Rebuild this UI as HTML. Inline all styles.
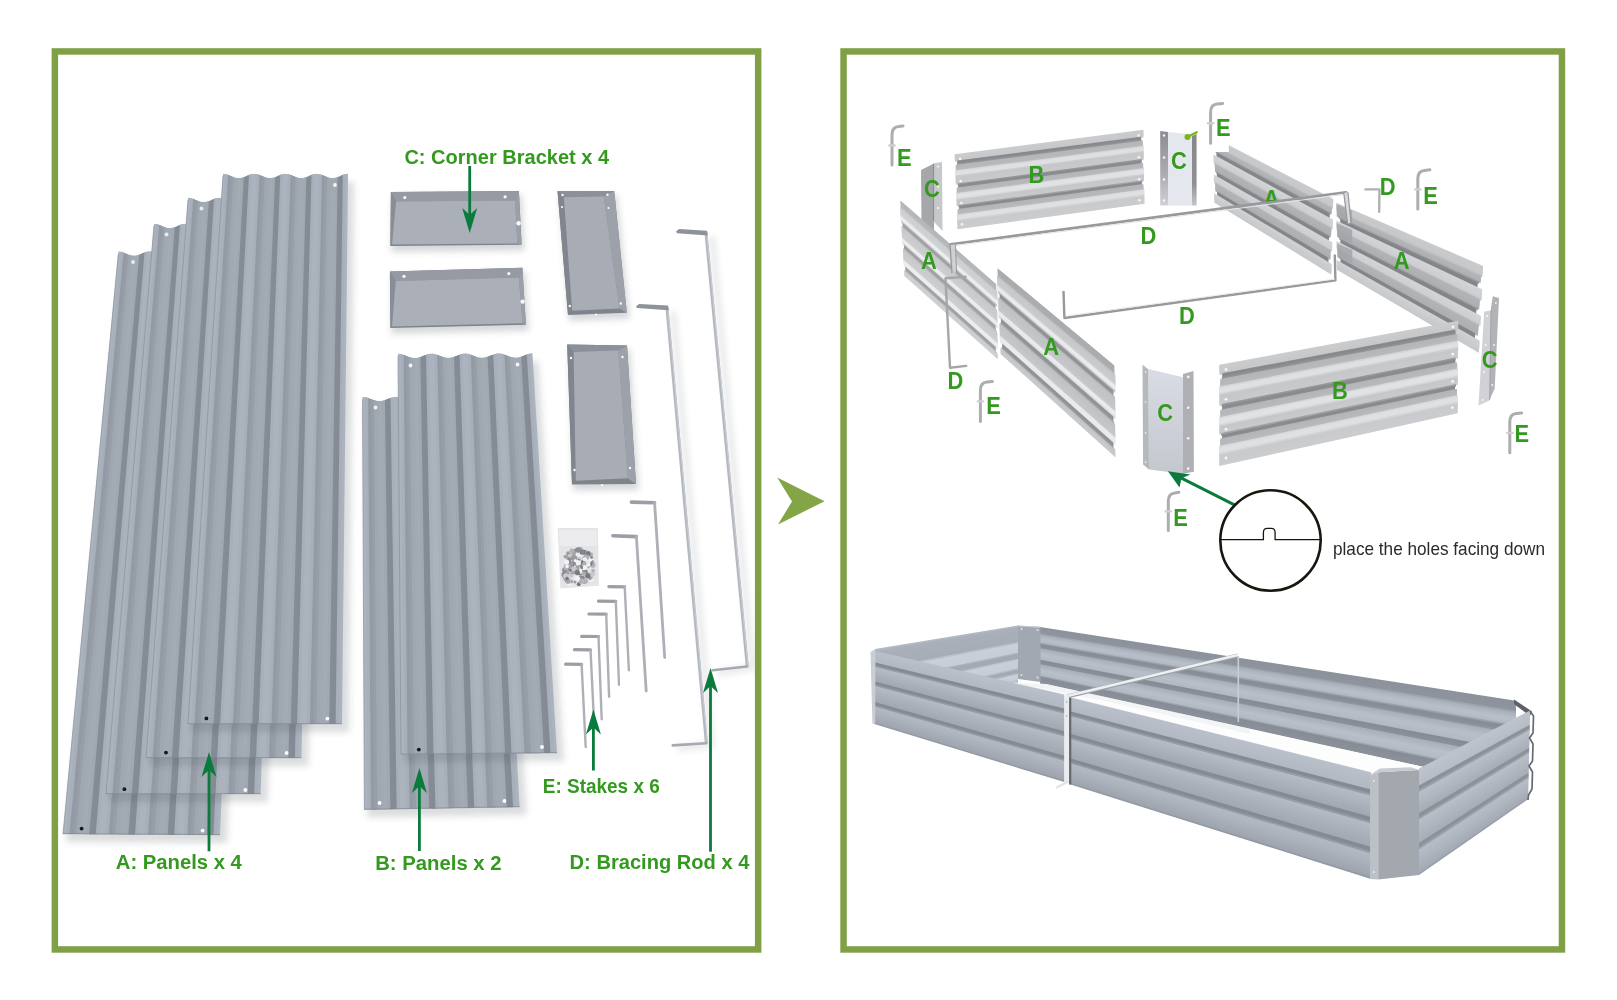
<!DOCTYPE html>
<html lang="en"><head><meta charset="utf-8"><title>Raised garden bed parts and assembly</title>
<style>html,body{margin:0;padding:0;background:#fff;}body{width:1617px;height:1000px;overflow:hidden;position:relative;font-family:"Liberation Sans",Arial,sans-serif;}svg{position:absolute;left:0;top:0;display:block;}</style></head><body>
<svg width="1617" height="1000" viewBox="0 0 1617 1000" font-family="Liberation Sans, Arial, sans-serif">
<defs><filter id="soft" x="-5%" y="-5%" width="110%" height="110%"><feGaussianBlur stdDeviation="0.6"/></filter><filter id="sh" x="-20%" y="-20%" width="140%" height="140%"><feGaussianBlur stdDeviation="6"/></filter><filter id="sh2" x="-30%" y="-30%" width="160%" height="160%"><feGaussianBlur stdDeviation="3"/></filter></defs>
<rect width="1617" height="1000" fill="#ffffff"/>
<g id="left">
<g filter="url(#soft)">
<g filter="url(#sh2)" opacity="0.2">
<polygon points="121.4,259.6 249.5,259.6 227.0,843.0 66.0,842.0" fill="#50565e"/>
</g>
<polygon points="118.4,251.3 122.8,252.2 68.6,834.0 63.0,834.0" fill="#abb3be"/>
<polygon points="121.0,251.6 125.4,253.2 71.8,834.1 66.3,834.0" fill="#a7afba"/>
<polygon points="123.6,252.4 128.0,254.4 75.1,834.1 69.5,834.0" fill="#939aa4"/>
<polygon points="126.2,253.6 130.6,255.4 78.4,834.1 72.8,834.1" fill="#979ea8"/>
<polygon points="128.8,254.8 133.3,255.9 81.6,834.1 76.1,834.1" fill="#9fa7b1"/>
<polygon points="131.4,255.6 135.9,255.7 84.9,834.1 79.4,834.1" fill="#a1a9b3"/>
<polygon points="134.0,255.9 138.5,255.0 88.2,834.2 82.6,834.1" fill="#a3abb5"/>
<polygon points="136.6,255.6 141.1,254.0 91.5,834.2 85.9,834.1" fill="#a0a8b2"/>
<polygon points="139.2,254.8 143.7,252.8 94.7,834.2 89.2,834.2" fill="#858c96"/>
<polygon points="141.9,253.6 146.3,251.8 98.0,834.2 92.4,834.2" fill="#848b95"/>
<polygon points="144.5,252.4 148.9,251.3 101.3,834.2 95.7,834.2" fill="#a7afba"/>
<polygon points="147.1,251.6 151.5,251.5 104.5,834.3 99.0,834.2" fill="#abb3be"/>
<polygon points="149.7,251.3 154.1,252.2 107.8,834.3 102.2,834.2" fill="#abb3be"/>
<polygon points="152.3,251.6 156.7,253.2 111.1,834.3 105.5,834.3" fill="#a7afba"/>
<polygon points="154.9,252.4 159.3,254.4 114.4,834.3 108.8,834.3" fill="#939aa4"/>
<polygon points="157.5,253.6 161.9,255.4 117.6,834.3 112.1,834.3" fill="#979ea8"/>
<polygon points="160.1,254.8 164.5,255.9 120.9,834.4 115.3,834.3" fill="#9fa7b1"/>
<polygon points="162.7,255.6 167.1,255.7 124.2,834.4 118.6,834.4" fill="#a1a9b3"/>
<polygon points="165.3,255.9 169.7,255.0 127.4,834.4 121.9,834.4" fill="#a3abb5"/>
<polygon points="167.9,255.6 172.3,254.0 130.7,834.4 125.1,834.4" fill="#a0a8b2"/>
<polygon points="170.5,254.8 175.0,252.8 134.0,834.5 128.4,834.4" fill="#858c96"/>
<polygon points="173.1,253.6 177.6,251.8 137.2,834.5 131.7,834.4" fill="#848b95"/>
<polygon points="175.7,252.4 180.2,251.3 140.5,834.5 135.0,834.5" fill="#a7afba"/>
<polygon points="178.3,251.6 182.8,251.5 143.8,834.5 138.2,834.5" fill="#abb3be"/>
<polygon points="180.9,251.3 185.4,252.2 147.1,834.5 141.5,834.5" fill="#abb3be"/>
<polygon points="183.6,251.6 188.0,253.2 150.3,834.6 144.8,834.5" fill="#a7afba"/>
<polygon points="186.2,252.4 190.6,254.4 153.6,834.6 148.0,834.5" fill="#939aa4"/>
<polygon points="188.8,253.6 193.2,255.4 156.9,834.6 151.3,834.6" fill="#979ea8"/>
<polygon points="191.4,254.8 195.8,255.9 160.1,834.6 154.6,834.6" fill="#9fa7b1"/>
<polygon points="194.0,255.6 198.4,255.7 163.4,834.6 157.9,834.6" fill="#a1a9b3"/>
<polygon points="196.6,255.9 201.0,255.0 166.7,834.7 161.1,834.6" fill="#a3abb5"/>
<polygon points="199.2,255.6 203.6,254.0 170.0,834.7 164.4,834.6" fill="#a0a8b2"/>
<polygon points="201.8,254.8 206.2,252.8 173.2,834.7 167.7,834.7" fill="#858c96"/>
<polygon points="204.4,253.6 208.8,251.8 176.5,834.7 170.9,834.7" fill="#848b95"/>
<polygon points="207.0,252.4 211.4,251.3 179.8,834.7 174.2,834.7" fill="#a7afba"/>
<polygon points="209.6,251.6 214.0,251.5 183.0,834.8 177.5,834.7" fill="#abb3be"/>
<polygon points="212.2,251.3 216.7,252.2 186.3,834.8 180.8,834.8" fill="#abb3be"/>
<polygon points="214.8,251.6 219.3,253.2 189.6,834.8 184.0,834.8" fill="#a7afba"/>
<polygon points="217.4,252.4 221.9,254.4 192.9,834.8 187.3,834.8" fill="#939aa4"/>
<polygon points="220.0,253.6 224.5,255.4 196.1,834.8 190.6,834.8" fill="#979ea8"/>
<polygon points="222.7,254.8 227.1,255.9 199.4,834.9 193.8,834.8" fill="#9fa7b1"/>
<polygon points="225.3,255.6 229.7,255.7 202.7,834.9 197.1,834.9" fill="#a1a9b3"/>
<polygon points="227.9,255.9 232.3,255.0 205.9,834.9 200.4,834.9" fill="#a3abb5"/>
<polygon points="230.5,255.6 234.9,254.0 209.2,834.9 203.6,834.9" fill="#a0a8b2"/>
<polygon points="233.1,254.8 237.5,252.8 212.5,835.0 206.9,834.9" fill="#858c96"/>
<polygon points="235.7,253.6 240.1,251.8 215.7,835.0 210.2,834.9" fill="#848b95"/>
<polygon points="238.3,252.4 242.7,251.3 219.0,835.0 213.5,835.0" fill="#a7afba"/>
<polygon points="240.9,251.6 243.5,251.3 220.0,835.0 216.7,835.0" fill="#abb3be"/>
<line x1="118.4" y1="253.6" x2="63.0" y2="834.0" stroke="#8a919b" stroke-width="1.00" opacity="0.7"/>
<line x1="63.0" y1="833.7" x2="220.0" y2="834.7" stroke="#7c838d" stroke-width="1.20" opacity="0.55"/>
<circle cx="81.6" cy="828.6" r="1.90" fill="#15171a"/>
<circle cx="202.6" cy="830.6" r="1.90" fill="#fdfdfd"/>
<circle cx="133.0" cy="262.0" r="1.90" fill="#e9ecef"/>
<g filter="url(#sh2)" opacity="0.2">
<polygon points="157.0,232.0 285.0,232.0 267.6,802.0 109.0,802.0" fill="#50565e"/>
</g>
<polygon points="154.0,223.7 158.4,224.6 111.5,794.0 106.0,794.0" fill="#abb3be"/>
<polygon points="156.6,224.0 161.0,225.6 114.7,794.0 109.2,794.0" fill="#a7afba"/>
<polygon points="159.2,224.8 163.6,226.8 117.9,794.0 112.4,794.0" fill="#939aa4"/>
<polygon points="161.8,226.0 166.2,227.8 121.1,794.0 115.7,794.0" fill="#979ea8"/>
<polygon points="164.4,227.2 168.8,228.3 124.4,794.0 118.9,794.0" fill="#9fa7b1"/>
<polygon points="167.0,228.0 171.4,228.1 127.6,794.0 122.1,794.0" fill="#a1a9b3"/>
<polygon points="169.6,228.3 174.1,227.4 130.8,794.0 125.3,794.0" fill="#a3abb5"/>
<polygon points="172.2,228.0 176.7,226.4 134.0,794.0 128.5,794.0" fill="#a0a8b2"/>
<polygon points="174.8,227.2 179.3,225.2 137.2,794.0 131.8,794.0" fill="#858c96"/>
<polygon points="177.4,226.0 181.9,224.2 140.5,794.0 135.0,794.0" fill="#848b95"/>
<polygon points="180.0,224.8 184.5,223.7 143.7,794.0 138.2,794.0" fill="#a7afba"/>
<polygon points="182.6,224.0 187.1,223.9 146.9,794.0 141.4,794.0" fill="#abb3be"/>
<polygon points="185.2,223.7 189.7,224.6 150.1,794.0 144.7,794.0" fill="#abb3be"/>
<polygon points="187.9,224.0 192.3,225.6 153.3,794.0 147.9,794.0" fill="#a7afba"/>
<polygon points="190.5,224.8 194.9,226.8 156.6,794.0 151.1,794.0" fill="#939aa4"/>
<polygon points="193.1,226.0 197.5,227.8 159.8,794.0 154.3,794.0" fill="#979ea8"/>
<polygon points="195.7,227.2 200.1,228.3 163.0,794.0 157.5,794.0" fill="#9fa7b1"/>
<polygon points="198.3,228.0 202.7,228.1 166.2,794.0 160.8,794.0" fill="#a1a9b3"/>
<polygon points="200.9,228.3 205.3,227.4 169.5,794.0 164.0,794.0" fill="#a3abb5"/>
<polygon points="203.5,228.0 207.9,226.4 172.7,794.0 167.2,794.0" fill="#a0a8b2"/>
<polygon points="206.1,227.2 210.5,225.2 175.9,794.0 170.4,794.0" fill="#858c96"/>
<polygon points="208.7,226.0 213.1,224.2 179.1,794.0 173.6,794.0" fill="#848b95"/>
<polygon points="211.3,224.8 215.7,223.7 182.3,794.0 176.9,794.0" fill="#a7afba"/>
<polygon points="213.9,224.0 218.3,223.9 185.6,794.0 180.1,794.0" fill="#abb3be"/>
<polygon points="216.5,223.7 220.9,224.6 188.8,794.0 183.3,794.0" fill="#abb3be"/>
<polygon points="219.1,224.0 223.5,225.6 192.0,794.0 186.5,794.0" fill="#a7afba"/>
<polygon points="221.7,224.8 226.1,226.8 195.2,794.0 189.7,794.0" fill="#939aa4"/>
<polygon points="224.3,226.0 228.7,227.8 198.4,794.0 193.0,794.0" fill="#979ea8"/>
<polygon points="226.9,227.2 231.3,228.3 201.7,794.0 196.2,794.0" fill="#9fa7b1"/>
<polygon points="229.5,228.0 233.9,228.1 204.9,794.0 199.4,794.0" fill="#a1a9b3"/>
<polygon points="232.1,228.3 236.6,227.4 208.1,794.0 202.6,794.0" fill="#a3abb5"/>
<polygon points="234.7,228.0 239.2,226.4 211.3,794.0 205.8,794.0" fill="#a0a8b2"/>
<polygon points="237.3,227.2 241.8,225.2 214.5,794.0 209.1,794.0" fill="#858c96"/>
<polygon points="239.9,226.0 244.4,224.2 217.8,794.0 212.3,794.0" fill="#848b95"/>
<polygon points="242.5,224.8 247.0,223.7 221.0,794.0 215.5,794.0" fill="#a7afba"/>
<polygon points="245.1,224.0 249.6,223.9 224.2,794.0 218.7,794.0" fill="#abb3be"/>
<polygon points="247.8,223.7 252.2,224.6 227.4,794.0 222.0,794.0" fill="#abb3be"/>
<polygon points="250.4,224.0 254.8,225.6 230.6,794.0 225.2,794.0" fill="#a7afba"/>
<polygon points="253.0,224.8 257.4,226.8 233.9,794.0 228.4,794.0" fill="#939aa4"/>
<polygon points="255.6,226.0 260.0,227.8 237.1,794.0 231.6,794.0" fill="#979ea8"/>
<polygon points="258.2,227.2 262.6,228.3 240.3,794.0 234.8,794.0" fill="#9fa7b1"/>
<polygon points="260.8,228.0 265.2,228.1 243.5,794.0 238.1,794.0" fill="#a1a9b3"/>
<polygon points="263.4,228.3 267.8,227.4 246.8,794.0 241.3,794.0" fill="#a3abb5"/>
<polygon points="266.0,228.0 270.4,226.4 250.0,794.0 244.5,794.0" fill="#a0a8b2"/>
<polygon points="268.6,227.2 273.0,225.2 253.2,794.0 247.7,794.0" fill="#858c96"/>
<polygon points="271.2,226.0 275.6,224.2 256.4,794.0 250.9,794.0" fill="#848b95"/>
<polygon points="273.8,224.8 278.2,223.7 259.6,794.0 254.2,794.0" fill="#a7afba"/>
<polygon points="276.4,224.0 279.0,223.7 260.6,794.0 257.4,794.0" fill="#abb3be"/>
<line x1="154.0" y1="226.0" x2="106.0" y2="794.0" stroke="#8a919b" stroke-width="1.00" opacity="0.7"/>
<line x1="106.0" y1="793.7" x2="260.6" y2="793.7" stroke="#7c838d" stroke-width="1.20" opacity="0.55"/>
<circle cx="124.4" cy="789.2" r="1.90" fill="#15171a"/>
<circle cx="245.4" cy="790.0" r="1.90" fill="#fdfdfd"/>
<circle cx="166.5" cy="234.5" r="1.90" fill="#e9ecef"/>
<g filter="url(#sh2)" opacity="0.2">
<polygon points="191.0,206.0 319.0,206.0 308.4,766.0 149.0,766.0" fill="#50565e"/>
</g>
<polygon points="188.0,197.7 192.4,198.6 151.5,758.0 146.0,758.0" fill="#abb3be"/>
<polygon points="190.6,198.0 195.0,199.6 154.7,758.0 149.2,758.0" fill="#a7afba"/>
<polygon points="193.2,198.8 197.6,200.8 158.0,758.0 152.5,758.0" fill="#939aa4"/>
<polygon points="195.8,200.0 200.2,201.8 161.2,758.0 155.7,758.0" fill="#979ea8"/>
<polygon points="198.4,201.2 202.8,202.3 164.5,758.0 158.9,758.0" fill="#9fa7b1"/>
<polygon points="201.0,202.0 205.4,202.1 167.7,758.0 162.2,758.0" fill="#a1a9b3"/>
<polygon points="203.6,202.3 208.1,201.4 170.9,758.0 165.4,758.0" fill="#a3abb5"/>
<polygon points="206.2,202.0 210.7,200.4 174.2,758.0 168.7,758.0" fill="#a0a8b2"/>
<polygon points="208.8,201.2 213.3,199.2 177.4,758.0 171.9,758.0" fill="#858c96"/>
<polygon points="211.4,200.0 215.9,198.2 180.6,758.0 175.1,758.0" fill="#848b95"/>
<polygon points="214.0,198.8 218.5,197.7 183.9,758.0 178.4,758.0" fill="#a7afba"/>
<polygon points="216.6,198.0 221.1,197.9 187.1,758.0 181.6,758.0" fill="#abb3be"/>
<polygon points="219.2,197.7 223.7,198.6 190.4,758.0 184.8,758.0" fill="#abb3be"/>
<polygon points="221.9,198.0 226.3,199.6 193.6,758.0 188.1,758.0" fill="#a7afba"/>
<polygon points="224.5,198.8 228.9,200.8 196.8,758.0 191.3,758.0" fill="#939aa4"/>
<polygon points="227.1,200.0 231.5,201.8 200.1,758.0 194.6,758.0" fill="#979ea8"/>
<polygon points="229.7,201.2 234.1,202.3 203.3,758.0 197.8,758.0" fill="#9fa7b1"/>
<polygon points="232.3,202.0 236.7,202.1 206.5,758.0 201.0,758.0" fill="#a1a9b3"/>
<polygon points="234.9,202.3 239.3,201.4 209.8,758.0 204.3,758.0" fill="#a3abb5"/>
<polygon points="237.5,202.0 241.9,200.4 213.0,758.0 207.5,758.0" fill="#a0a8b2"/>
<polygon points="240.1,201.2 244.5,199.2 216.3,758.0 210.8,758.0" fill="#858c96"/>
<polygon points="242.7,200.0 247.1,198.2 219.5,758.0 214.0,758.0" fill="#848b95"/>
<polygon points="245.3,198.8 249.7,197.7 222.7,758.0 217.2,758.0" fill="#a7afba"/>
<polygon points="247.9,198.0 252.3,197.9 226.0,758.0 220.5,758.0" fill="#abb3be"/>
<polygon points="250.5,197.7 254.9,198.6 229.2,758.0 223.7,758.0" fill="#abb3be"/>
<polygon points="253.1,198.0 257.5,199.6 232.4,758.0 226.9,758.0" fill="#a7afba"/>
<polygon points="255.7,198.8 260.1,200.8 235.7,758.0 230.2,758.0" fill="#939aa4"/>
<polygon points="258.3,200.0 262.7,201.8 238.9,758.0 233.4,758.0" fill="#979ea8"/>
<polygon points="260.9,201.2 265.3,202.3 242.2,758.0 236.6,758.0" fill="#9fa7b1"/>
<polygon points="263.5,202.0 267.9,202.1 245.4,758.0 239.9,758.0" fill="#a1a9b3"/>
<polygon points="266.1,202.3 270.6,201.4 248.6,758.0 243.1,758.0" fill="#a3abb5"/>
<polygon points="268.7,202.0 273.2,200.4 251.9,758.0 246.4,758.0" fill="#a0a8b2"/>
<polygon points="271.3,201.2 275.8,199.2 255.1,758.0 249.6,758.0" fill="#858c96"/>
<polygon points="273.9,200.0 278.4,198.2 258.3,758.0 252.8,758.0" fill="#848b95"/>
<polygon points="276.5,198.8 281.0,197.7 261.6,758.0 256.1,758.0" fill="#a7afba"/>
<polygon points="279.1,198.0 283.6,197.9 264.8,758.0 259.3,758.0" fill="#abb3be"/>
<polygon points="281.8,197.7 286.2,198.6 268.1,758.0 262.5,758.0" fill="#abb3be"/>
<polygon points="284.4,198.0 288.8,199.6 271.3,758.0 265.8,758.0" fill="#a7afba"/>
<polygon points="287.0,198.8 291.4,200.8 274.5,758.0 269.0,758.0" fill="#939aa4"/>
<polygon points="289.6,200.0 294.0,201.8 277.8,758.0 272.3,758.0" fill="#979ea8"/>
<polygon points="292.2,201.2 296.6,202.3 281.0,758.0 275.5,758.0" fill="#9fa7b1"/>
<polygon points="294.8,202.0 299.2,202.1 284.2,758.0 278.7,758.0" fill="#a1a9b3"/>
<polygon points="297.4,202.3 301.8,201.4 287.5,758.0 282.0,758.0" fill="#a3abb5"/>
<polygon points="300.0,202.0 304.4,200.4 290.7,758.0 285.2,758.0" fill="#a0a8b2"/>
<polygon points="302.6,201.2 307.0,199.2 294.0,758.0 288.4,758.0" fill="#858c96"/>
<polygon points="305.2,200.0 309.6,198.2 297.2,758.0 291.7,758.0" fill="#848b95"/>
<polygon points="307.8,198.8 312.2,197.7 300.4,758.0 294.9,758.0" fill="#a7afba"/>
<polygon points="310.4,198.0 313.0,197.7 301.4,758.0 298.2,758.0" fill="#abb3be"/>
<line x1="188.0" y1="200.0" x2="146.0" y2="758.0" stroke="#8a919b" stroke-width="1.00" opacity="0.7"/>
<line x1="146.0" y1="757.7" x2="301.4" y2="757.7" stroke="#7c838d" stroke-width="1.20" opacity="0.55"/>
<circle cx="166.0" cy="752.6" r="1.90" fill="#15171a"/>
<circle cx="286.6" cy="753.0" r="1.90" fill="#fdfdfd"/>
<circle cx="201.5" cy="208.5" r="1.90" fill="#e9ecef"/>
<g filter="url(#sh2)" opacity="0.2">
<polygon points="226.0,182.0 354.0,182.0 349.0,732.0 191.0,732.0" fill="#50565e"/>
</g>
<polygon points="223.0,173.7 227.4,174.6 193.5,724.0 188.0,724.0" fill="#abb3be"/>
<polygon points="225.6,174.0 230.0,175.6 196.7,724.0 191.2,724.0" fill="#a7afba"/>
<polygon points="228.2,174.8 232.6,176.8 199.9,724.0 194.4,724.0" fill="#939aa4"/>
<polygon points="230.8,176.0 235.2,177.8 203.1,724.0 197.6,724.0" fill="#979ea8"/>
<polygon points="233.4,177.2 237.8,178.3 206.3,724.0 200.8,724.0" fill="#9fa7b1"/>
<polygon points="236.0,178.0 240.4,178.1 209.5,724.0 204.0,724.0" fill="#a1a9b3"/>
<polygon points="238.6,178.3 243.1,177.4 212.7,724.0 207.2,724.0" fill="#a3abb5"/>
<polygon points="241.2,178.0 245.7,176.4 215.9,724.0 210.5,724.0" fill="#a0a8b2"/>
<polygon points="243.8,177.2 248.3,175.2 219.1,724.0 213.7,724.0" fill="#858c96"/>
<polygon points="246.4,176.0 250.9,174.2 222.3,724.0 216.9,724.0" fill="#848b95"/>
<polygon points="249.0,174.8 253.5,173.7 225.5,724.0 220.1,724.0" fill="#a7afba"/>
<polygon points="251.6,174.0 256.1,173.9 228.7,724.0 223.3,724.0" fill="#abb3be"/>
<polygon points="254.2,173.7 258.7,174.6 232.0,724.0 226.5,724.0" fill="#abb3be"/>
<polygon points="256.9,174.0 261.3,175.6 235.2,724.0 229.7,724.0" fill="#a7afba"/>
<polygon points="259.5,174.8 263.9,176.8 238.4,724.0 232.9,724.0" fill="#939aa4"/>
<polygon points="262.1,176.0 266.5,177.8 241.6,724.0 236.1,724.0" fill="#979ea8"/>
<polygon points="264.7,177.2 269.1,178.3 244.8,724.0 239.3,724.0" fill="#9fa7b1"/>
<polygon points="267.3,178.0 271.7,178.1 248.0,724.0 242.5,724.0" fill="#a1a9b3"/>
<polygon points="269.9,178.3 274.3,177.4 251.2,724.0 245.8,724.0" fill="#a3abb5"/>
<polygon points="272.5,178.0 276.9,176.4 254.4,724.0 249.0,724.0" fill="#a0a8b2"/>
<polygon points="275.1,177.2 279.5,175.2 257.6,724.0 252.2,724.0" fill="#858c96"/>
<polygon points="277.7,176.0 282.1,174.2 260.8,724.0 255.4,724.0" fill="#848b95"/>
<polygon points="280.3,174.8 284.7,173.7 264.0,724.0 258.6,724.0" fill="#a7afba"/>
<polygon points="282.9,174.0 287.3,173.9 267.2,724.0 261.8,724.0" fill="#abb3be"/>
<polygon points="285.5,173.7 289.9,174.6 270.5,724.0 265.0,724.0" fill="#abb3be"/>
<polygon points="288.1,174.0 292.5,175.6 273.7,724.0 268.2,724.0" fill="#a7afba"/>
<polygon points="290.7,174.8 295.1,176.8 276.9,724.0 271.4,724.0" fill="#939aa4"/>
<polygon points="293.3,176.0 297.7,177.8 280.1,724.0 274.6,724.0" fill="#979ea8"/>
<polygon points="295.9,177.2 300.3,178.3 283.3,724.0 277.8,724.0" fill="#9fa7b1"/>
<polygon points="298.5,178.0 302.9,178.1 286.5,724.0 281.0,724.0" fill="#a1a9b3"/>
<polygon points="301.1,178.3 305.6,177.4 289.7,724.0 284.2,724.0" fill="#a3abb5"/>
<polygon points="303.7,178.0 308.2,176.4 292.9,724.0 287.5,724.0" fill="#a0a8b2"/>
<polygon points="306.3,177.2 310.8,175.2 296.1,724.0 290.7,724.0" fill="#858c96"/>
<polygon points="308.9,176.0 313.4,174.2 299.3,724.0 293.9,724.0" fill="#848b95"/>
<polygon points="311.5,174.8 316.0,173.7 302.5,724.0 297.1,724.0" fill="#a7afba"/>
<polygon points="314.1,174.0 318.6,173.9 305.7,724.0 300.3,724.0" fill="#abb3be"/>
<polygon points="316.8,173.7 321.2,174.6 309.0,724.0 303.5,724.0" fill="#abb3be"/>
<polygon points="319.4,174.0 323.8,175.6 312.2,724.0 306.7,724.0" fill="#a7afba"/>
<polygon points="322.0,174.8 326.4,176.8 315.4,724.0 309.9,724.0" fill="#939aa4"/>
<polygon points="324.6,176.0 329.0,177.8 318.6,724.0 313.1,724.0" fill="#979ea8"/>
<polygon points="327.2,177.2 331.6,178.3 321.8,724.0 316.3,724.0" fill="#9fa7b1"/>
<polygon points="329.8,178.0 334.2,178.1 325.0,724.0 319.5,724.0" fill="#a1a9b3"/>
<polygon points="332.4,178.3 336.8,177.4 328.2,724.0 322.8,724.0" fill="#a3abb5"/>
<polygon points="335.0,178.0 339.4,176.4 331.4,724.0 326.0,724.0" fill="#a0a8b2"/>
<polygon points="337.6,177.2 342.0,175.2 334.6,724.0 329.2,724.0" fill="#858c96"/>
<polygon points="340.2,176.0 344.6,174.2 337.8,724.0 332.4,724.0" fill="#848b95"/>
<polygon points="342.8,174.8 347.2,173.7 341.0,724.0 335.6,724.0" fill="#a7afba"/>
<polygon points="345.4,174.0 348.0,173.7 342.0,724.0 338.8,724.0" fill="#abb3be"/>
<line x1="223.0" y1="176.0" x2="188.0" y2="724.0" stroke="#8a919b" stroke-width="1.00" opacity="0.7"/>
<line x1="188.0" y1="723.7" x2="342.0" y2="723.7" stroke="#7c838d" stroke-width="1.20" opacity="0.55"/>
<circle cx="206.4" cy="718.4" r="1.90" fill="#15171a"/>
<circle cx="327.4" cy="718.6" r="1.90" fill="#fdfdfd"/>
<circle cx="335.0" cy="185.0" r="1.90" fill="#f4f6f8"/>
<g filter="url(#sh2)" opacity="0.2">
<polygon points="365.5,405.0 503.0,405.0 526.6,815.0 367.4,817.6" fill="#50565e"/>
</g>
<polygon points="362.5,396.7 367.3,397.6 369.9,809.5 364.4,809.6" fill="#abb3be"/>
<polygon points="365.3,397.0 370.1,398.6 373.1,809.5 367.6,809.5" fill="#a7afba"/>
<polygon points="368.1,397.9 372.9,399.8 376.4,809.4 370.9,809.5" fill="#939aa4"/>
<polygon points="370.9,399.0 375.7,400.8 379.6,809.3 374.1,809.4" fill="#979ea8"/>
<polygon points="373.7,400.1 378.5,401.3 382.8,809.3 377.3,809.4" fill="#9fa7b1"/>
<polygon points="376.5,401.0 381.3,401.1 386.1,809.2 380.6,809.3" fill="#a1a9b3"/>
<polygon points="379.3,401.3 384.1,400.4 389.3,809.2 383.8,809.3" fill="#a3abb5"/>
<polygon points="382.1,401.0 386.9,399.4 392.5,809.1 387.0,809.2" fill="#a0a8b2"/>
<polygon points="384.9,400.1 389.7,398.2 395.8,809.1 390.3,809.2" fill="#858c96"/>
<polygon points="387.7,399.0 392.5,397.2 399.0,809.0 393.5,809.1" fill="#848b95"/>
<polygon points="390.5,397.9 395.3,396.7 402.2,809.0 396.7,809.1" fill="#a7afba"/>
<polygon points="393.3,397.0 398.1,396.9 405.5,808.9 400.0,809.0" fill="#abb3be"/>
<polygon points="396.1,396.7 400.9,397.6 408.7,808.9 403.2,809.0" fill="#abb3be"/>
<polygon points="398.9,397.0 403.7,398.6 411.9,808.8 406.4,808.9" fill="#a7afba"/>
<polygon points="401.7,397.9 406.5,399.8 415.2,808.7 409.7,808.8" fill="#939aa4"/>
<polygon points="404.5,399.0 409.3,400.8 418.4,808.7 412.9,808.8" fill="#979ea8"/>
<polygon points="407.3,400.1 412.1,401.3 421.6,808.6 416.1,808.7" fill="#9fa7b1"/>
<polygon points="410.1,401.0 414.9,401.1 424.9,808.6 419.4,808.7" fill="#a1a9b3"/>
<polygon points="412.9,401.3 417.7,400.4 428.1,808.5 422.6,808.6" fill="#a3abb5"/>
<polygon points="415.7,401.0 420.5,399.4 431.3,808.5 425.8,808.6" fill="#a0a8b2"/>
<polygon points="418.5,400.1 423.3,398.2 434.6,808.4 429.1,808.5" fill="#858c96"/>
<polygon points="421.3,399.0 426.1,397.2 437.8,808.4 432.3,808.5" fill="#848b95"/>
<polygon points="424.1,397.9 428.9,396.7 441.0,808.3 435.5,808.4" fill="#a7afba"/>
<polygon points="426.9,397.0 431.7,396.9 444.3,808.3 438.8,808.4" fill="#abb3be"/>
<polygon points="429.8,396.7 434.5,397.6 447.5,808.2 442.0,808.3" fill="#abb3be"/>
<polygon points="432.6,397.0 437.3,398.6 450.7,808.2 445.2,808.2" fill="#a7afba"/>
<polygon points="435.4,397.9 440.1,399.8 454.0,808.1 448.5,808.2" fill="#939aa4"/>
<polygon points="438.2,399.0 442.9,400.8 457.2,808.0 451.7,808.1" fill="#979ea8"/>
<polygon points="441.0,400.1 445.7,401.3 460.4,808.0 454.9,808.1" fill="#9fa7b1"/>
<polygon points="443.8,401.0 448.5,401.1 463.7,807.9 458.2,808.0" fill="#a1a9b3"/>
<polygon points="446.6,401.3 451.3,400.4 466.9,807.9 461.4,808.0" fill="#a3abb5"/>
<polygon points="449.4,401.0 454.1,399.4 470.1,807.8 464.6,807.9" fill="#a0a8b2"/>
<polygon points="452.2,400.1 456.9,398.2 473.4,807.8 467.9,807.9" fill="#858c96"/>
<polygon points="455.0,399.0 459.7,397.2 476.6,807.7 471.1,807.8" fill="#848b95"/>
<polygon points="457.8,397.9 462.5,396.7 479.8,807.7 474.3,807.8" fill="#a7afba"/>
<polygon points="460.6,397.0 465.3,396.9 483.1,807.6 477.6,807.7" fill="#abb3be"/>
<polygon points="463.4,396.7 468.1,397.6 486.3,807.6 480.8,807.6" fill="#abb3be"/>
<polygon points="466.2,397.0 470.9,398.6 489.5,807.5 484.0,807.6" fill="#a7afba"/>
<polygon points="469.0,397.9 473.7,399.8 492.8,807.4 487.3,807.5" fill="#939aa4"/>
<polygon points="471.8,399.0 476.5,400.8 496.0,807.4 490.5,807.5" fill="#979ea8"/>
<polygon points="474.6,400.1 479.3,401.3 499.2,807.3 493.7,807.4" fill="#9fa7b1"/>
<polygon points="477.4,401.0 482.1,401.1 502.5,807.3 497.0,807.4" fill="#a1a9b3"/>
<polygon points="480.2,401.3 485.0,400.4 505.7,807.2 500.2,807.3" fill="#a3abb5"/>
<polygon points="483.0,401.0 487.8,399.4 508.9,807.2 503.4,807.3" fill="#a0a8b2"/>
<polygon points="485.8,400.1 490.6,398.2 512.2,807.1 506.7,807.2" fill="#858c96"/>
<polygon points="488.6,399.0 493.4,397.2 515.4,807.1 509.9,807.2" fill="#848b95"/>
<polygon points="491.4,397.9 496.2,396.7 518.6,807.0 513.1,807.1" fill="#a7afba"/>
<polygon points="494.2,397.0 497.0,396.7 519.6,807.0 516.4,807.1" fill="#abb3be"/>
<line x1="362.5" y1="399.0" x2="364.4" y2="809.6" stroke="#8a919b" stroke-width="1.00" opacity="0.7"/>
<line x1="364.4" y1="809.3" x2="519.6" y2="806.7" stroke="#7c838d" stroke-width="1.20" opacity="0.55"/>
<circle cx="379.6" cy="803.0" r="1.90" fill="#fdfdfd"/>
<circle cx="504.4" cy="801.0" r="1.90" fill="#fdfdfd"/>
<circle cx="375.5" cy="407.5" r="1.90" fill="#eef0f3"/>
<g filter="url(#sh2)" opacity="0.2">
<polygon points="401.0,362.0 538.4,361.5 564.0,761.0 404.0,762.4" fill="#50565e"/>
</g>
<polygon points="398.0,353.7 402.8,354.5 406.5,754.4 401.0,754.4" fill="#abb3be"/>
<polygon points="400.8,354.0 405.6,355.6 409.8,754.3 404.2,754.4" fill="#a7afba"/>
<polygon points="403.6,354.8 408.4,356.8 413.0,754.3 407.5,754.3" fill="#939aa4"/>
<polygon points="406.4,356.0 411.2,357.7 416.3,754.3 410.8,754.3" fill="#979ea8"/>
<polygon points="409.2,357.1 414.0,358.2 419.5,754.2 414.0,754.3" fill="#9fa7b1"/>
<polygon points="412.0,357.9 416.8,358.1 422.8,754.2 417.2,754.3" fill="#a1a9b3"/>
<polygon points="414.8,358.2 419.6,357.4 426.0,754.2 420.5,754.2" fill="#a3abb5"/>
<polygon points="417.6,357.9 422.4,356.3 429.3,754.1 423.8,754.2" fill="#a0a8b2"/>
<polygon points="420.4,357.1 425.2,355.1 432.5,754.1 427.0,754.2" fill="#858c96"/>
<polygon points="423.2,355.9 428.0,354.1 435.8,754.1 430.2,754.1" fill="#848b95"/>
<polygon points="426.0,354.7 430.8,353.6 439.0,754.1 433.5,754.1" fill="#a7afba"/>
<polygon points="428.8,353.9 433.6,353.7 442.3,754.0 436.8,754.1" fill="#abb3be"/>
<polygon points="431.6,353.6 436.4,354.4 445.5,754.0 440.0,754.0" fill="#abb3be"/>
<polygon points="434.4,353.9 439.2,355.5 448.8,754.0 443.2,754.0" fill="#a7afba"/>
<polygon points="437.2,354.7 442.0,356.7 452.0,753.9 446.5,754.0" fill="#939aa4"/>
<polygon points="440.0,355.8 444.8,357.6 455.3,753.9 449.8,754.0" fill="#979ea8"/>
<polygon points="442.8,357.0 447.6,358.1 458.5,753.9 453.0,753.9" fill="#9fa7b1"/>
<polygon points="445.6,357.8 450.4,358.0 461.8,753.9 456.2,753.9" fill="#a1a9b3"/>
<polygon points="448.4,358.1 453.2,357.2 465.0,753.8 459.5,753.9" fill="#a3abb5"/>
<polygon points="451.2,357.8 456.0,356.1 468.3,753.8 462.8,753.8" fill="#a0a8b2"/>
<polygon points="454.0,356.9 458.8,354.9 471.5,753.8 466.0,753.8" fill="#858c96"/>
<polygon points="456.8,355.8 461.6,354.0 474.8,753.7 469.2,753.8" fill="#848b95"/>
<polygon points="459.6,354.6 464.4,353.5 478.0,753.7 472.5,753.8" fill="#a7afba"/>
<polygon points="462.4,353.8 467.2,353.6 481.3,753.7 475.8,753.7" fill="#abb3be"/>
<polygon points="465.2,353.4 470.0,354.3 484.5,753.7 479.0,753.7" fill="#abb3be"/>
<polygon points="468.0,353.7 472.8,355.4 487.8,753.6 482.2,753.7" fill="#a7afba"/>
<polygon points="470.8,354.6 475.6,356.5 491.0,753.6 485.5,753.6" fill="#939aa4"/>
<polygon points="473.6,355.7 478.4,357.5 494.3,753.6 488.8,753.6" fill="#979ea8"/>
<polygon points="476.4,356.9 481.2,358.0 497.5,753.5 492.0,753.6" fill="#9fa7b1"/>
<polygon points="479.2,357.7 484.0,357.8 500.8,753.5 495.2,753.6" fill="#a1a9b3"/>
<polygon points="482.0,358.0 486.8,357.1 504.0,753.5 498.5,753.5" fill="#a3abb5"/>
<polygon points="484.8,357.7 489.6,356.0 507.3,753.4 501.8,753.5" fill="#a0a8b2"/>
<polygon points="487.6,356.8 492.4,354.8 510.5,753.4 505.0,753.5" fill="#858c96"/>
<polygon points="490.4,355.7 495.2,353.9 513.8,753.4 508.2,753.4" fill="#848b95"/>
<polygon points="493.2,354.5 498.0,353.4 517.0,753.4 511.5,753.4" fill="#a7afba"/>
<polygon points="496.0,353.6 500.8,353.5 520.3,753.3 514.8,753.4" fill="#abb3be"/>
<polygon points="498.8,353.3 503.6,354.2 523.5,753.3 518.0,753.4" fill="#abb3be"/>
<polygon points="501.6,353.6 506.4,355.2 526.8,753.3 521.2,753.3" fill="#a7afba"/>
<polygon points="504.4,354.5 509.2,356.4 530.0,753.2 524.5,753.3" fill="#939aa4"/>
<polygon points="507.2,355.6 512.0,357.4 533.3,753.2 527.8,753.3" fill="#979ea8"/>
<polygon points="510.0,356.7 514.8,357.8 536.5,753.2 531.0,753.2" fill="#9fa7b1"/>
<polygon points="512.8,357.6 517.6,357.7 539.8,753.2 534.2,753.2" fill="#a1a9b3"/>
<polygon points="515.6,357.9 520.4,357.0 543.0,753.1 537.5,753.2" fill="#a3abb5"/>
<polygon points="518.4,357.5 523.2,355.9 546.3,753.1 540.8,753.1" fill="#a0a8b2"/>
<polygon points="521.2,356.7 526.0,354.7 549.5,753.1 544.0,753.1" fill="#858c96"/>
<polygon points="524.0,355.5 528.8,353.7 552.8,753.0 547.2,753.1" fill="#848b95"/>
<polygon points="526.8,354.4 531.6,353.2 556.0,753.0 550.5,753.1" fill="#a7afba"/>
<polygon points="529.6,353.5 532.4,353.2 557.0,753.0 553.8,753.0" fill="#abb3be"/>
<line x1="398.0" y1="356.0" x2="401.0" y2="754.4" stroke="#8a919b" stroke-width="1.00" opacity="0.7"/>
<line x1="401.0" y1="754.1" x2="557.0" y2="752.7" stroke="#7c838d" stroke-width="1.20" opacity="0.55"/>
<circle cx="418.8" cy="749.6" r="1.90" fill="#15171a"/>
<circle cx="542.0" cy="747.0" r="1.90" fill="#fdfdfd"/>
<circle cx="410.5" cy="365.5" r="1.90" fill="#f4f6f8"/>
<circle cx="517.5" cy="364.5" r="1.90" fill="#f4f6f8"/>
</g>
<g filter="url(#sh2)" opacity="0.22">
<polygon points="392.9,196.0 521.9,194.9 524.6,250.8 391.4,251.9" fill="#4a4f57"/>
</g>
<g filter="url(#soft)">
<polygon points="390.9,192.0 518.9,190.9 521.6,244.8 390.4,245.9" fill="#7e838c"/>
<polygon points="390.9,192.0 518.9,190.9 515.2,200.5 396.0,201.6" fill="#959aa3"/>
<polygon points="390.9,192.0 396.0,201.6 392.0,244.5 390.4,245.9" fill="#888d96"/>
<polygon points="515.2,200.5 518.9,190.9 521.6,244.8 517.3,243.4" fill="#9a9fa8"/>
<polygon points="396.0,201.6 515.2,200.5 517.3,243.4 392.0,244.5" fill="#aaafb8"/>
<circle cx="404.8" cy="197.6" r="1.60" fill="#fbfbfc"/>
<circle cx="505.1" cy="196.8" r="1.60" fill="#fbfbfc"/>
<circle cx="518.6" cy="223.2" r="2.20" fill="#fbfbfc"/>
</g>
<g filter="url(#sh2)" opacity="0.22">
<polygon points="391.9,275.5 525.4,271.7 528.9,330.8 391.4,334.0" fill="#4a4f57"/>
</g>
<g filter="url(#soft)">
<polygon points="389.9,271.5 522.4,267.7 525.9,324.8 390.4,328.0" fill="#7e838c"/>
<polygon points="389.9,271.5 522.4,267.7 518.9,277.6 395.7,281.1" fill="#959aa3"/>
<polygon points="389.9,271.5 395.7,281.1 392.0,326.4 390.4,328.0" fill="#888d96"/>
<polygon points="518.9,277.6 522.4,267.7 525.9,324.8 522.4,323.2" fill="#9a9fa8"/>
<polygon points="395.7,281.1 518.9,277.6 522.4,323.2 392.0,326.4" fill="#aaafb8"/>
<circle cx="404.0" cy="276.3" r="1.60" fill="#fbfbfc"/>
<circle cx="508.8" cy="273.6" r="1.60" fill="#fbfbfc"/>
<circle cx="522.6" cy="301.6" r="2.20" fill="#fbfbfc"/>
</g>
<g filter="url(#sh2)" opacity="0.22">
<polygon points="559.5,195.0 617.2,195.0 629.8,318.8 569.0,320.9" fill="#4a4f57"/>
</g>
<g filter="url(#soft)">
<polygon points="557.5,191.0 614.2,191.0 626.8,312.8 568.0,314.9" fill="#7e838c"/>
<polygon points="557.5,191.0 614.2,191.0 603.7,196.2 563.8,197.2" fill="#8b9099"/>
<polygon points="557.5,191.0 563.8,197.2 572.2,310.7 568.0,314.9" fill="#80858e"/>
<polygon points="603.7,196.2 614.2,191.0 626.8,312.8 619.5,308.6" fill="#9ca1aa"/>
<polygon points="563.8,197.2 603.7,196.2 619.5,308.6 572.2,310.7" fill="#a7acb5"/>
<circle cx="562.5" cy="195.0" r="1.20" fill="#fbfbfc"/>
<circle cx="607.5" cy="194.8" r="1.20" fill="#fbfbfc"/>
<circle cx="569.8" cy="306.0" r="1.20" fill="#fbfbfc"/>
<circle cx="620.8" cy="303.5" r="1.20" fill="#fbfbfc"/>
<circle cx="608.5" cy="208.0" r="1.10" fill="#fbfbfc"/>
<circle cx="562.0" cy="207.0" r="1.10" fill="#fbfbfc"/>
<circle cx="596.0" cy="314.5" r="1.10" fill="#fbfbfc"/>
</g>
<g filter="url(#sh2)" opacity="0.22">
<polygon points="569.2,348.5 630.0,349.5 639.0,490.0 573.0,490.6" fill="#4a4f57"/>
</g>
<g filter="url(#soft)">
<polygon points="567.2,344.5 627.0,345.5 636.0,484.0 572.0,484.6" fill="#7e838c"/>
<polygon points="567.2,344.5 627.0,345.5 618.3,350.3 573.6,351.9" fill="#8b9099"/>
<polygon points="567.2,344.5 573.6,351.9 575.8,480.8 572.0,484.6" fill="#80858e"/>
<polygon points="618.3,350.3 627.0,345.5 636.0,484.0 627.9,478.2" fill="#9ca1aa"/>
<polygon points="573.6,351.9 618.3,350.3 627.9,478.2 575.8,480.8" fill="#a7acb5"/>
<circle cx="571.0" cy="358.0" r="1.20" fill="#fbfbfc"/>
<circle cx="622.5" cy="357.0" r="1.20" fill="#fbfbfc"/>
<circle cx="574.5" cy="470.0" r="1.20" fill="#fbfbfc"/>
<circle cx="630.0" cy="468.0" r="1.20" fill="#fbfbfc"/>
<circle cx="602.0" cy="485.0" r="1.10" fill="#fbfbfc"/>
</g>
<g filter="url(#sh2)" opacity="0.16">
<polyline points="712.0,236.2 752.2,667.5 717.7,673.3" fill="none" stroke="#50565e" stroke-width="5.00"/>
</g>
<g filter="url(#soft)">
<polyline points="706.0,233.2 747.2,665.5" fill="none" stroke="#b3b7be" stroke-width="3.00" stroke-linecap="round"/>
<polyline points="706.8,233.2 748.0,665.5" fill="none" stroke="#c9ccd2" stroke-width="1.00"/>
<polygon points="676.0,231.6 679.0,229.0 707.0,230.8 707.8,235.4 677.0,233.2" fill="#8d929b"/>
<polyline points="747.2,666.5 712.7,670.3" fill="none" stroke="#a5a9b0" stroke-width="2.60" stroke-linecap="round"/>
</g>
<g filter="url(#sh2)" opacity="0.16">
<polyline points="673.0,311.0 711.3,744.2 677.7,748.4" fill="none" stroke="#50565e" stroke-width="5.00"/>
</g>
<g filter="url(#soft)">
<polyline points="667.0,308.0 706.3,742.2" fill="none" stroke="#b3b7be" stroke-width="3.00" stroke-linecap="round"/>
<polyline points="667.8,308.0 707.1,742.2" fill="none" stroke="#c9ccd2" stroke-width="1.00"/>
<polygon points="636.0,306.5 639.0,303.9 668.0,305.6 668.8,310.2 637.0,308.1" fill="#8d929b"/>
<polyline points="706.3,743.2 672.7,745.4" fill="none" stroke="#a5a9b0" stroke-width="2.60" stroke-linecap="round"/>
</g>
<g filter="url(#soft)">
<polyline points="631.4,502.1 654.6,502.8" fill="none" stroke="#9b9ea5" stroke-width="3.60" stroke-linecap="round"/>
<polyline points="654.6,502.8 664.7,657.5" fill="none" stroke="#adb0b6" stroke-width="2.80" stroke-linecap="round"/>
</g>
<g filter="url(#soft)">
<polyline points="612.9,535.7 636.4,536.6" fill="none" stroke="#9b9ea5" stroke-width="3.60" stroke-linecap="round"/>
<polyline points="636.4,536.6 646.2,691.0" fill="none" stroke="#adb0b6" stroke-width="2.80" stroke-linecap="round"/>
</g>
<g filter="url(#soft)">
<polyline points="608.8,586.6 624.7,586.8" fill="none" stroke="#9b9ea5" stroke-width="3.20" stroke-linecap="round"/>
<polyline points="624.7,586.8 628.9,670.3" fill="none" stroke="#adb0b6" stroke-width="2.40" stroke-linecap="round"/>
</g>
<g filter="url(#soft)">
<polyline points="598.5,601.2 615.8,601.4" fill="none" stroke="#9b9ea5" stroke-width="3.20" stroke-linecap="round"/>
<polyline points="615.8,601.4 619.0,684.7" fill="none" stroke="#adb0b6" stroke-width="2.40" stroke-linecap="round"/>
</g>
<g filter="url(#soft)">
<polyline points="588.9,614.0 606.2,614.2" fill="none" stroke="#9b9ea5" stroke-width="3.20" stroke-linecap="round"/>
<polyline points="606.2,614.2 609.1,696.8" fill="none" stroke="#adb0b6" stroke-width="2.40" stroke-linecap="round"/>
</g>
<g filter="url(#soft)">
<polyline points="581.6,636.3 598.5,636.5" fill="none" stroke="#9b9ea5" stroke-width="3.20" stroke-linecap="round"/>
<polyline points="598.5,636.5 601.7,719.2" fill="none" stroke="#adb0b6" stroke-width="2.40" stroke-linecap="round"/>
</g>
<g filter="url(#soft)">
<polyline points="574.5,649.7 590.5,649.9" fill="none" stroke="#9b9ea5" stroke-width="3.20" stroke-linecap="round"/>
<polyline points="590.5,649.9 593.7,715.0" fill="none" stroke="#adb0b6" stroke-width="2.40" stroke-linecap="round"/>
</g>
<g filter="url(#soft)">
<polyline points="565.6,664.2 581.6,664.4" fill="none" stroke="#9b9ea5" stroke-width="3.20" stroke-linecap="round"/>
<polyline points="581.6,664.4 585.7,747.0" fill="none" stroke="#adb0b6" stroke-width="2.40" stroke-linecap="round"/>
</g>
<g filter="url(#soft)">
<polygon points="557.7,528.0 597.8,528.0 598.9,585.7 560.4,588.5" fill="#e4e4e7"/>
<polygon points="559.0,530.0 596.5,530.0 597.0,546.0 559.8,546.0" fill="#ececee"/>
<circle cx="573.0" cy="554.4" r="1.47" fill="#b0b2b7"/>
<circle cx="588.5" cy="552.4" r="1.48" fill="#77797f"/>
<circle cx="578.7" cy="550.3" r="1.99" fill="#f2f2f3"/>
<circle cx="570.5" cy="568.8" r="2.56" fill="#8a8c92"/>
<circle cx="566.8" cy="557.0" r="2.22" fill="#b0b2b7"/>
<circle cx="564.9" cy="570.1" r="2.77" fill="#8a8c92"/>
<circle cx="572.0" cy="554.2" r="2.20" fill="#8a8c92"/>
<circle cx="580.4" cy="573.6" r="2.21" fill="#8a8c92"/>
<circle cx="582.8" cy="562.4" r="2.40" fill="#77797f"/>
<circle cx="580.5" cy="571.3" r="2.35" fill="#f2f2f3"/>
<circle cx="576.3" cy="560.3" r="2.69" fill="#77797f"/>
<circle cx="574.2" cy="557.9" r="2.38" fill="#9a9ca2"/>
<circle cx="570.6" cy="569.7" r="2.09" fill="#77797f"/>
<circle cx="573.6" cy="565.2" r="2.77" fill="#77797f"/>
<circle cx="566.7" cy="564.1" r="1.88" fill="#a3a5aa"/>
<circle cx="591.9" cy="564.2" r="1.51" fill="#b0b2b7"/>
<circle cx="580.3" cy="577.4" r="1.84" fill="#a3a5aa"/>
<circle cx="584.6" cy="570.4" r="2.52" fill="#77797f"/>
<circle cx="571.4" cy="574.1" r="1.48" fill="#8a8c92"/>
<circle cx="584.7" cy="572.3" r="2.55" fill="#b0b2b7"/>
<circle cx="571.8" cy="562.9" r="1.89" fill="#b0b2b7"/>
<circle cx="592.2" cy="561.8" r="1.56" fill="#77797f"/>
<circle cx="564.8" cy="576.7" r="2.43" fill="#9a9ca2"/>
<circle cx="575.3" cy="582.0" r="1.51" fill="#f2f2f3"/>
<circle cx="576.9" cy="568.8" r="2.55" fill="#9a9ca2"/>
<circle cx="589.8" cy="559.0" r="2.78" fill="#f2f2f3"/>
<circle cx="584.2" cy="562.7" r="1.61" fill="#9a9ca2"/>
<circle cx="568.5" cy="557.4" r="1.42" fill="#9a9ca2"/>
<circle cx="588.8" cy="555.6" r="1.41" fill="#c9cacd"/>
<circle cx="576.0" cy="562.3" r="1.85" fill="#77797f"/>
<circle cx="566.9" cy="579.9" r="2.32" fill="#77797f"/>
<circle cx="585.9" cy="565.4" r="2.49" fill="#a3a5aa"/>
<circle cx="590.1" cy="577.7" r="1.96" fill="#f2f2f3"/>
<circle cx="575.2" cy="566.3" r="1.49" fill="#f2f2f3"/>
<circle cx="565.1" cy="556.5" r="1.55" fill="#9a9ca2"/>
<circle cx="581.6" cy="552.7" r="1.61" fill="#77797f"/>
<circle cx="566.1" cy="562.1" r="1.50" fill="#8a8c92"/>
<circle cx="569.4" cy="562.5" r="1.75" fill="#b0b2b7"/>
<circle cx="573.8" cy="562.1" r="1.56" fill="#8a8c92"/>
<circle cx="578.1" cy="584.2" r="2.08" fill="#f2f2f3"/>
<circle cx="573.6" cy="558.5" r="2.37" fill="#a3a5aa"/>
<circle cx="579.0" cy="556.4" r="1.91" fill="#77797f"/>
<circle cx="584.4" cy="581.9" r="2.14" fill="#a3a5aa"/>
<circle cx="584.6" cy="558.4" r="2.67" fill="#c9cacd"/>
<circle cx="574.0" cy="557.0" r="2.49" fill="#77797f"/>
<circle cx="573.2" cy="557.0" r="2.50" fill="#a3a5aa"/>
<circle cx="586.5" cy="556.0" r="2.55" fill="#9a9ca2"/>
<circle cx="585.9" cy="557.2" r="2.09" fill="#77797f"/>
<circle cx="587.5" cy="566.0" r="2.37" fill="#9a9ca2"/>
<circle cx="592.7" cy="565.1" r="2.78" fill="#b0b2b7"/>
<circle cx="592.6" cy="562.1" r="1.54" fill="#9a9ca2"/>
<circle cx="577.6" cy="561.2" r="2.27" fill="#f2f2f3"/>
<circle cx="590.9" cy="579.3" r="2.67" fill="#f2f2f3"/>
<circle cx="573.7" cy="572.2" r="2.32" fill="#a3a5aa"/>
<circle cx="591.2" cy="577.2" r="1.68" fill="#a3a5aa"/>
<circle cx="590.6" cy="564.6" r="1.87" fill="#b0b2b7"/>
<circle cx="575.3" cy="563.4" r="2.41" fill="#8a8c92"/>
<circle cx="568.3" cy="553.6" r="2.23" fill="#9a9ca2"/>
<circle cx="577.4" cy="572.6" r="2.56" fill="#77797f"/>
<circle cx="593.4" cy="572.7" r="1.62" fill="#c9cacd"/>
<circle cx="580.0" cy="549.8" r="2.76" fill="#a3a5aa"/>
<circle cx="583.1" cy="568.0" r="2.01" fill="#9a9ca2"/>
<circle cx="590.0" cy="578.7" r="1.44" fill="#9a9ca2"/>
<circle cx="569.6" cy="567.0" r="2.22" fill="#a3a5aa"/>
<circle cx="571.0" cy="564.1" r="1.49" fill="#9a9ca2"/>
<circle cx="585.9" cy="581.3" r="2.22" fill="#b0b2b7"/>
<circle cx="591.0" cy="564.1" r="1.58" fill="#77797f"/>
<circle cx="567.7" cy="567.4" r="2.02" fill="#a3a5aa"/>
<circle cx="587.8" cy="555.2" r="2.27" fill="#f2f2f3"/>
<circle cx="584.2" cy="568.1" r="2.50" fill="#f2f2f3"/>
<circle cx="566.3" cy="569.2" r="1.67" fill="#9a9ca2"/>
<circle cx="577.0" cy="550.0" r="2.02" fill="#8a8c92"/>
<circle cx="582.0" cy="567.2" r="1.68" fill="#77797f"/>
<circle cx="571.6" cy="567.3" r="2.07" fill="#a3a5aa"/>
<circle cx="592.2" cy="574.2" r="2.69" fill="#c9cacd"/>
<circle cx="590.7" cy="556.3" r="1.59" fill="#f2f2f3"/>
<circle cx="566.8" cy="564.9" r="2.34" fill="#8a8c92"/>
<circle cx="576.3" cy="556.7" r="2.50" fill="#c9cacd"/>
<circle cx="590.8" cy="554.6" r="2.30" fill="#b0b2b7"/>
<circle cx="574.4" cy="558.1" r="2.75" fill="#9a9ca2"/>
<circle cx="569.8" cy="583.3" r="2.64" fill="#f2f2f3"/>
<circle cx="568.0" cy="573.0" r="1.63" fill="#9a9ca2"/>
<circle cx="576.4" cy="567.6" r="1.99" fill="#c9cacd"/>
<circle cx="574.1" cy="552.3" r="1.43" fill="#c9cacd"/>
<circle cx="580.2" cy="564.9" r="1.94" fill="#8a8c92"/>
<circle cx="579.0" cy="559.6" r="1.56" fill="#8a8c92"/>
<circle cx="591.5" cy="557.2" r="1.52" fill="#8a8c92"/>
<circle cx="571.4" cy="581.6" r="1.78" fill="#9a9ca2"/>
<circle cx="567.0" cy="564.2" r="2.55" fill="#b0b2b7"/>
<circle cx="571.0" cy="554.4" r="2.20" fill="#77797f"/>
<circle cx="584.7" cy="552.2" r="2.52" fill="#8a8c92"/>
<circle cx="568.7" cy="581.2" r="2.71" fill="#c9cacd"/>
<circle cx="582.7" cy="577.9" r="2.25" fill="#8a8c92"/>
<circle cx="569.9" cy="558.5" r="2.04" fill="#8a8c92"/>
<circle cx="573.5" cy="568.9" r="2.27" fill="#c9cacd"/>
<circle cx="564.3" cy="574.5" r="2.76" fill="#8a8c92"/>
<circle cx="571.1" cy="555.5" r="2.28" fill="#c9cacd"/>
<circle cx="579.5" cy="556.4" r="2.10" fill="#f2f2f3"/>
<circle cx="568.5" cy="561.5" r="2.79" fill="#8a8c92"/>
<circle cx="578.7" cy="584.2" r="2.06" fill="#77797f"/>
<circle cx="588.4" cy="564.6" r="2.16" fill="#f2f2f3"/>
<circle cx="572.5" cy="556.7" r="1.88" fill="#9a9ca2"/>
<circle cx="588.8" cy="574.4" r="1.60" fill="#b0b2b7"/>
<circle cx="582.4" cy="580.7" r="1.63" fill="#f2f2f3"/>
<circle cx="565.6" cy="579.3" r="2.11" fill="#a3a5aa"/>
<circle cx="593.1" cy="570.6" r="1.81" fill="#b0b2b7"/>
<circle cx="577.2" cy="554.7" r="1.41" fill="#f2f2f3"/>
<circle cx="574.3" cy="560.8" r="1.85" fill="#77797f"/>
<circle cx="569.8" cy="555.6" r="1.93" fill="#c9cacd"/>
<circle cx="577.7" cy="567.1" r="1.75" fill="#9a9ca2"/>
<circle cx="587.1" cy="552.3" r="1.53" fill="#a3a5aa"/>
<circle cx="575.4" cy="550.5" r="1.82" fill="#8a8c92"/>
<circle cx="582.5" cy="552.0" r="2.59" fill="#77797f"/>
<circle cx="567.8" cy="581.1" r="2.63" fill="#a3a5aa"/>
<circle cx="575.1" cy="560.7" r="1.61" fill="#f2f2f3"/>
<circle cx="585.4" cy="572.2" r="2.55" fill="#8a8c92"/>
<circle cx="585.2" cy="567.5" r="2.43" fill="#f2f2f3"/>
<circle cx="588.2" cy="554.0" r="2.45" fill="#77797f"/>
<circle cx="580.6" cy="578.3" r="2.56" fill="#8a8c92"/>
<circle cx="581.1" cy="581.1" r="2.74" fill="#b0b2b7"/>
<circle cx="582.9" cy="552.1" r="1.59" fill="#8a8c92"/>
<circle cx="574.2" cy="552.8" r="2.03" fill="#a3a5aa"/>
<circle cx="579.5" cy="557.8" r="1.40" fill="#c9cacd"/>
<circle cx="587.7" cy="575.9" r="2.66" fill="#77797f"/>
<circle cx="565.9" cy="567.9" r="2.43" fill="#b0b2b7"/>
<circle cx="570.8" cy="551.7" r="1.73" fill="#c9cacd"/>
<circle cx="586.4" cy="557.3" r="2.77" fill="#b0b2b7"/>
<circle cx="578.3" cy="562.8" r="2.67" fill="#f2f2f3"/>
<circle cx="571.9" cy="550.7" r="2.30" fill="#b0b2b7"/>
<circle cx="570.9" cy="575.8" r="2.27" fill="#c9cacd"/>
<circle cx="567.1" cy="566.4" r="1.78" fill="#f2f2f3"/>
<circle cx="583.8" cy="573.9" r="2.09" fill="#b0b2b7"/>
<circle cx="585.0" cy="559.3" r="2.05" fill="#f2f2f3"/>
<circle cx="577.2" cy="578.5" r="2.79" fill="#f2f2f3"/>
<circle cx="575.0" cy="582.0" r="1.50" fill="#9a9ca2"/>
<circle cx="565.8" cy="575.9" r="2.73" fill="#c9cacd"/>
<circle cx="567.1" cy="578.5" r="1.79" fill="#77797f"/>
<circle cx="566.5" cy="562.1" r="2.66" fill="#f2f2f3"/>
<circle cx="578.1" cy="549.9" r="2.73" fill="#8a8c92"/>
<circle cx="584.1" cy="563.6" r="1.60" fill="#b0b2b7"/>
</g>
<text x="404.4" y="163.6" font-size="20.0" font-weight="bold" fill="#34991f" textLength="204.8" lengthAdjust="spacingAndGlyphs">C: Corner Bracket x 4</text>
<text x="115.8" y="869.0" font-size="20.0" font-weight="bold" fill="#34991f" textLength="126.1" lengthAdjust="spacingAndGlyphs">A: Panels x 4</text>
<text x="375.2" y="869.7" font-size="20.0" font-weight="bold" fill="#34991f" textLength="126.4" lengthAdjust="spacingAndGlyphs">B: Panels x 2</text>
<text x="542.8" y="792.7" font-size="21.0" font-weight="bold" fill="#34991f" textLength="117.0" lengthAdjust="spacingAndGlyphs">E: Stakes x 6</text>
<text x="569.6" y="868.7" font-size="20.0" font-weight="bold" fill="#34991f" textLength="179.8" lengthAdjust="spacingAndGlyphs">D: Bracing Rod x 4</text>
<line x1="469.7" y1="166.0" x2="469.7" y2="218.0" stroke="#0b7a3d" stroke-width="2.80"/>
<polygon points="469.7,233.0 477.2,208.0 469.7,215.0 462.2,208.0" fill="#0b7a3d"/>
<line x1="209.0" y1="851.3" x2="209.0" y2="767.0" stroke="#0b7a3d" stroke-width="2.80"/>
<polygon points="209.0,752.0 216.5,777.0 209.0,770.0 201.5,777.0" fill="#0b7a3d"/>
<line x1="419.4" y1="851.0" x2="419.4" y2="783.0" stroke="#0b7a3d" stroke-width="2.80"/>
<polygon points="419.4,768.0 426.9,793.0 419.4,786.0 411.9,793.0" fill="#0b7a3d"/>
<line x1="593.4" y1="770.5" x2="593.4" y2="724.6" stroke="#0b7a3d" stroke-width="2.80"/>
<polygon points="593.4,709.6 600.9,734.6 593.4,727.6 585.9,734.6" fill="#0b7a3d"/>
<line x1="710.5" y1="851.7" x2="710.5" y2="683.0" stroke="#0b7a3d" stroke-width="2.80"/>
<polygon points="710.5,668.0 718.0,693.0 710.5,686.0 703.0,693.0" fill="#0b7a3d"/>
</g>
<g id="right">
<g filter="url(#soft)">
<polygon points="954.6,154.2 954.7,156.5 1143.5,132.1 1143.4,129.8" fill="#caccce"/>
<polygon points="954.7,155.5 954.7,157.8 1143.4,133.4 1143.4,131.1" fill="#c9cbcd"/>
<polygon points="954.7,156.9 954.8,159.1 1143.4,134.7 1143.4,132.5" fill="#c8cacc"/>
<polygon points="954.8,158.2 954.9,160.5 1143.4,136.0 1143.4,133.8" fill="#c7c9cb"/>
<polygon points="954.9,159.5 955.0,161.8 1143.4,137.4 1143.4,135.1" fill="#c6c8ca"/>
<polygon points="957.3,160.6 957.4,162.8 1141.1,139.0 1141.0,136.7" fill="#87898c"/>
<polygon points="957.3,161.9 957.4,164.2 1141.2,140.3 1141.1,138.1" fill="#898b8e"/>
<polygon points="957.1,163.3 957.1,165.6 1141.5,141.6 1141.4,139.3" fill="#919396"/>
<polygon points="955.8,164.8 955.9,167.1 1142.8,142.7 1142.8,140.5" fill="#b4b6b9"/>
<polygon points="955.8,166.1 955.9,168.4 1142.9,144.1 1142.8,141.8" fill="#b5b7ba"/>
<polygon points="955.8,167.5 955.9,169.8 1142.9,145.4 1142.9,143.1" fill="#b6b8bb"/>
<polygon points="955.8,168.8 955.9,171.1 1143.0,146.7 1143.0,144.4" fill="#b8babd"/>
<polygon points="955.2,170.3 955.2,172.5 1143.7,147.9 1143.7,145.7" fill="#d5d7d9"/>
<polygon points="955.2,171.6 955.3,173.9 1143.7,149.2 1143.7,147.0" fill="#dfe0e2"/>
<polygon points="955.3,172.9 955.4,175.2 1143.8,150.6 1143.7,148.3" fill="#dfe0e2"/>
<polygon points="955.3,174.3 955.4,176.6 1143.8,151.9 1143.8,149.6" fill="#dedfe1"/>
<polygon points="955.4,175.6 955.5,177.9 1143.8,153.2 1143.8,150.9" fill="#cccdcf"/>
<polygon points="955.7,176.9 955.8,179.2 1143.6,154.5 1143.6,152.3" fill="#c5c7c9"/>
<polygon points="955.7,178.3 955.8,180.6 1143.6,155.9 1143.6,153.6" fill="#c6c8ca"/>
<polygon points="955.7,179.6 955.8,181.9 1143.7,157.2 1143.7,154.9" fill="#c7c9cb"/>
<polygon points="955.7,181.0 955.8,183.2 1143.7,158.5 1143.7,156.3" fill="#c7c9cb"/>
<polygon points="955.8,182.3 955.9,184.6 1143.8,159.8 1143.7,157.6" fill="#c8cacc"/>
<polygon points="957.7,183.4 957.8,185.7 1141.9,161.4 1141.9,159.1" fill="#95979a"/>
<polygon points="958.2,184.7 958.3,187.0 1141.5,162.8 1141.4,160.5" fill="#898b8e"/>
<polygon points="958.2,186.0 958.3,188.3 1141.6,164.1 1141.5,161.8" fill="#8b8d90"/>
<polygon points="956.8,187.6 956.8,189.8 1143.1,165.2 1143.0,163.0" fill="#b3b5b8"/>
<polygon points="956.7,188.9 956.8,191.2 1143.2,166.5 1143.1,164.3" fill="#b5b7ba"/>
<polygon points="956.8,190.3 956.8,192.5 1143.2,167.8 1143.2,165.6" fill="#b6b8bb"/>
<polygon points="956.7,191.6 956.8,193.9 1143.3,169.1 1143.3,166.9" fill="#b8babd"/>
<polygon points="956.1,193.0 956.2,195.3 1144.0,170.4 1144.0,168.1" fill="#d9dadc"/>
<polygon points="956.1,194.4 956.2,196.7 1144.1,171.7 1144.0,169.4" fill="#e2e3e5"/>
<polygon points="956.2,195.7 956.3,198.0 1144.1,173.0 1144.0,170.8" fill="#e1e2e4"/>
<polygon points="956.2,197.1 956.3,199.3 1144.1,174.3 1144.1,172.1" fill="#e0e1e3"/>
<polygon points="956.3,198.4 956.4,200.7 1144.1,175.7 1144.1,173.4" fill="#d5d6d8"/>
<polygon points="956.6,199.7 956.7,202.0 1143.9,177.0 1143.9,174.8" fill="#c5c7c9"/>
<polygon points="956.6,201.0 956.7,203.3 1143.9,178.3 1143.9,176.1" fill="#c6c8ca"/>
<polygon points="956.6,202.4 956.7,204.7 1144.0,179.6 1144.0,177.4" fill="#c7c9cb"/>
<polygon points="956.6,203.7 956.7,206.0 1144.1,181.0 1144.0,178.7" fill="#c8cacc"/>
<polygon points="958.2,204.9 958.3,207.1 1142.6,182.5 1142.5,180.2" fill="#9fa1a4"/>
<polygon points="959.1,206.1 959.2,208.4 1141.7,183.9 1141.7,181.7" fill="#888a8d"/>
<polygon points="959.1,207.4 959.2,209.7 1141.8,185.2 1141.8,183.0" fill="#8a8c8f"/>
<polygon points="957.6,209.0 957.7,211.3 1143.3,186.3 1143.3,184.1" fill="#b3b5b8"/>
<polygon points="957.6,210.3 957.7,212.6 1143.4,187.7 1143.4,185.4" fill="#b5b7ba"/>
<polygon points="957.6,211.7 957.7,214.0 1143.5,189.0 1143.5,186.7" fill="#b6b8bb"/>
<polygon points="957.6,213.0 957.7,215.3 1143.6,190.3 1143.6,188.0" fill="#b8babd"/>
<polygon points="956.9,214.5 957.0,216.7 1144.3,191.5 1144.3,189.3" fill="#d9dbdd"/>
<polygon points="957.0,215.8 957.1,218.1 1144.3,192.8 1144.3,190.6" fill="#dfe0e2"/>
<polygon points="957.0,217.1 957.1,219.4 1144.4,194.2 1144.3,191.9" fill="#dfe0e2"/>
<polygon points="957.1,218.5 957.2,220.8 1144.4,195.5 1144.3,193.2" fill="#dedfe1"/>
<polygon points="957.1,219.8 957.2,222.1 1144.4,196.8 1144.4,194.5" fill="#d1d3d5"/>
<polygon points="957.3,221.1 957.4,223.4 1144.3,198.1 1144.3,195.9" fill="#c8cacc"/>
<polygon points="957.3,222.5 957.4,224.8 1144.3,199.5 1144.3,197.2" fill="#c9cbcd"/>
<polygon points="957.4,223.8 957.5,226.1 1144.4,200.8 1144.3,198.5" fill="#c9cbcd"/>
<polygon points="957.4,225.2 957.5,227.5 1144.4,202.1 1144.4,199.8" fill="#caccce"/>
<polygon points="957.5,226.5 957.5,228.8 1144.4,203.4 1144.4,201.2" fill="#caccce"/>
<polygon points="957.5,227.9 957.5,229.2 1144.5,203.8 1144.5,202.5" fill="#cbcdcf"/>
<circle cx="960.1" cy="158.9" r="1.30" fill="#f4f4f5"/>
<circle cx="1138.6" cy="135.4" r="1.30" fill="#f4f4f5"/>
<circle cx="960.7" cy="181.0" r="1.30" fill="#f4f4f5"/>
<circle cx="1138.9" cy="157.3" r="1.30" fill="#f4f4f5"/>
<circle cx="961.3" cy="203.0" r="1.30" fill="#f4f4f5"/>
<circle cx="1139.2" cy="179.2" r="1.30" fill="#f4f4f5"/>
<circle cx="961.9" cy="224.3" r="1.30" fill="#f4f4f5"/>
<circle cx="1139.5" cy="200.3" r="1.30" fill="#f4f4f5"/>
<polygon points="921.0,170.0 934.0,163.5 934.0,232.0 921.5,222.0" fill="#a5a7aa"/>
<polygon points="933.0,163.5 942.0,162.0 942.5,231.0 933.0,221.0" fill="#c6c8ca"/>
<line x1="933.5" y1="164.0" x2="933.5" y2="221.0" stroke="#8d8f92" stroke-width="1.20"/>
<circle cx="938.0" cy="166.5" r="1.10" fill="#f6f6f7"/>
<circle cx="938.0" cy="187.0" r="1.10" fill="#f6f6f7"/>
<circle cx="938.0" cy="208.0" r="1.10" fill="#f6f6f7"/>
<polygon points="900.4,200.5 900.6,202.8 996.1,286.2 996.1,284.0" fill="#b3b5b8"/>
<polygon points="900.5,201.8 900.6,204.1 996.2,287.6 996.2,285.3" fill="#b4b6b9"/>
<polygon points="900.6,203.2 900.7,205.5 996.2,288.9 996.2,286.7" fill="#b4b6b9"/>
<polygon points="900.6,204.5 900.8,206.8 996.2,290.3 996.2,288.0" fill="#b5b7b9"/>
<polygon points="900.7,205.8 900.8,208.1 996.3,291.6 996.3,289.4" fill="#b6b8ba"/>
<polygon points="900.2,206.7 900.3,209.0 997.1,293.7 997.1,291.4" fill="#c8cacd"/>
<polygon points="900.1,207.9 900.3,210.2 997.3,295.1 997.3,292.9" fill="#cdcfd0"/>
<polygon points="900.2,209.2 900.3,211.6 997.3,296.5 997.3,294.2" fill="#cecfd1"/>
<polygon points="900.3,210.6 900.4,212.9 997.4,297.9 997.3,295.6" fill="#cfd0d2"/>
<polygon points="900.3,211.9 900.5,214.3 997.4,299.2 997.4,296.9" fill="#cfd0d2"/>
<polygon points="900.4,213.3 900.5,215.6 997.4,300.5 997.4,298.3" fill="#cfd1d3"/>
<polygon points="900.4,214.6 900.6,216.9 997.5,301.9 997.5,299.7" fill="#dadcde"/>
<polygon points="900.5,215.9 900.6,218.3 997.5,303.3 997.5,301.0" fill="#edeeef"/>
<polygon points="900.6,217.3 900.7,219.6 997.5,304.6 997.5,302.3" fill="#ededee"/>
<polygon points="900.7,218.7 900.8,221.0 997.5,305.9 997.5,303.7" fill="#eceded"/>
<polygon points="901.1,220.3 901.2,222.6 997.1,306.9 997.1,304.6" fill="#c8c9cb"/>
<polygon points="902.5,222.8 902.6,225.1 995.4,306.6 995.4,304.4" fill="#9ea0a3"/>
<polygon points="902.5,224.2 902.7,226.5 995.4,308.0 995.4,305.8" fill="#9fa1a3"/>
<polygon points="902.6,225.5 902.7,227.8 995.5,309.4 995.4,307.1" fill="#a0a2a4"/>
<polygon points="901.6,225.9 901.7,228.2 996.9,312.0 996.9,309.7" fill="#c2c4c6"/>
<polygon points="901.5,227.1 901.7,229.4 997.2,313.5 997.2,311.2" fill="#c8c9cb"/>
<polygon points="901.6,228.4 901.7,230.8 997.2,314.9 997.2,312.6" fill="#c8cacc"/>
<polygon points="901.6,229.8 901.8,232.1 997.3,316.2 997.2,314.0" fill="#c9cbcd"/>
<polygon points="901.7,231.1 901.9,233.5 997.3,317.5 997.3,315.3" fill="#c9cbcd"/>
<polygon points="901.8,232.5 901.9,234.8 997.3,318.9 997.3,316.6" fill="#caccce"/>
<polygon points="901.8,233.8 902.0,236.1 997.4,320.3 997.3,318.0" fill="#cbcdcf"/>
<polygon points="901.9,235.1 902.0,237.5 997.4,321.6 997.4,319.4" fill="#cccecf"/>
<polygon points="901.9,236.4 902.0,238.7 997.6,323.1 997.6,320.8" fill="#cfd1d3"/>
<polygon points="901.9,237.7 902.0,240.0 997.7,324.5 997.6,322.2" fill="#eeeef0"/>
<polygon points="902.0,239.1 902.1,241.4 997.7,325.8 997.7,323.5" fill="#ededee"/>
<polygon points="902.0,240.4 902.2,242.7 997.7,327.1 997.7,324.9" fill="#eceded"/>
<polygon points="902.1,241.8 902.3,244.1 997.7,328.5 997.7,326.2" fill="#dedfe0"/>
<polygon points="903.9,244.6 904.0,246.9 995.5,327.8 995.5,325.6" fill="#9ea0a3"/>
<polygon points="903.9,245.9 904.1,248.2 995.6,329.2 995.5,327.0" fill="#9fa1a3"/>
<polygon points="904.0,247.3 904.1,249.6 995.6,330.6 995.6,328.3" fill="#a0a2a4"/>
<polygon points="903.3,248.0 903.5,250.3 996.6,332.7 996.6,330.5" fill="#b7b9bb"/>
<polygon points="902.9,248.9 903.0,251.2 997.3,334.7 997.3,332.4" fill="#c8c9cb"/>
<polygon points="903.0,250.2 903.1,252.5 997.3,336.0 997.3,333.8" fill="#c8c9cb"/>
<polygon points="903.0,251.6 903.2,253.9 997.4,337.4 997.3,335.1" fill="#c8cacc"/>
<polygon points="903.1,252.9 903.2,255.2 997.4,338.7 997.4,336.5" fill="#c9cbcd"/>
<polygon points="903.1,254.2 903.3,256.6 997.5,340.1 997.4,337.8" fill="#caccce"/>
<polygon points="903.2,255.6 903.3,257.9 997.5,341.5 997.5,339.2" fill="#cbcdcf"/>
<polygon points="903.3,256.9 903.4,259.2 997.5,342.8 997.5,340.6" fill="#cccecf"/>
<polygon points="903.3,258.2 903.5,260.6 997.6,344.2 997.6,341.9" fill="#cdcfd0"/>
<polygon points="903.2,259.5 903.4,261.8 997.8,345.7 997.8,343.4" fill="#ededef"/>
<polygon points="903.3,260.8 903.5,263.1 997.8,347.0 997.8,344.8" fill="#ededef"/>
<polygon points="903.4,262.2 903.6,264.5 997.8,348.3 997.8,346.1" fill="#eceded"/>
<polygon points="903.5,263.6 903.7,265.9 997.8,349.7 997.8,347.4" fill="#ebeced"/>
<polygon points="905.2,266.4 905.4,268.7 995.7,349.0 995.6,346.8" fill="#9ea0a3"/>
<polygon points="905.3,267.7 905.4,270.0 995.7,350.4 995.7,348.2" fill="#9fa1a3"/>
<polygon points="905.3,269.0 905.5,271.4 995.8,351.8 995.7,349.5" fill="#a0a2a4"/>
<polygon points="904.5,269.6 904.7,271.9 997.0,354.1 996.9,351.9" fill="#bcbec0"/>
<polygon points="904.1,270.5 904.3,272.8 997.6,356.1 997.6,353.8" fill="#cccecf"/>
<polygon points="904.2,271.9 904.3,274.2 997.7,357.4 997.7,355.2" fill="#cdcfd0"/>
<polygon points="904.2,273.2 904.4,275.5 997.7,358.8 997.7,356.5" fill="#cecfd1"/>
<polygon points="904.3,274.5 904.4,275.9 997.8,359.2 997.8,357.9" fill="#cfd0d2"/>
<polygon points="997.6,268.2 997.7,270.9 1114.2,367.9 1114.2,365.2" fill="#a9abae"/>
<polygon points="997.6,269.7 997.7,272.4 1114.3,369.6 1114.3,366.8" fill="#aaacaf"/>
<polygon points="997.7,271.3 997.8,273.9 1114.3,371.2 1114.3,368.5" fill="#aaacaf"/>
<polygon points="997.7,272.8 997.9,275.4 1114.3,372.9 1114.3,370.1" fill="#abadb0"/>
<polygon points="997.8,274.3 997.9,277.0 1114.3,374.5 1114.3,371.8" fill="#acaeb1"/>
<polygon points="997.0,275.2 997.2,277.8 1115.1,376.8 1115.1,374.1" fill="#c1c3c6"/>
<polygon points="996.9,276.6 997.1,279.2 1115.3,378.6 1115.3,375.9" fill="#c6c8ca"/>
<polygon points="997.0,278.1 997.1,280.7 1115.4,380.3 1115.4,377.5" fill="#c7c9cb"/>
<polygon points="997.0,279.6 997.1,282.3 1115.4,381.9 1115.4,379.2" fill="#c8cacc"/>
<polygon points="997.1,281.2 997.2,283.8 1115.4,383.6 1115.4,380.8" fill="#c8cacc"/>
<polygon points="997.1,282.7 997.2,285.3 1115.4,385.2 1115.4,382.5" fill="#c9cbcd"/>
<polygon points="997.1,284.2 997.2,286.8 1115.5,386.9 1115.5,384.2" fill="#d5d7d9"/>
<polygon points="997.2,285.7 997.3,288.3 1115.5,388.6 1115.5,385.8" fill="#ebeced"/>
<polygon points="997.2,287.3 997.4,289.9 1115.5,390.2 1115.5,387.4" fill="#eaebec"/>
<polygon points="997.3,288.8 997.5,291.4 1115.5,391.8 1115.5,389.0" fill="#e9eaeb"/>
<polygon points="997.8,290.7 998.0,293.3 1115.1,393.1 1115.1,390.3" fill="#c1c2c4"/>
<polygon points="999.7,293.8 999.8,296.4 1113.3,393.2 1113.3,390.4" fill="#919396"/>
<polygon points="999.7,295.3 999.9,297.9 1113.3,394.8 1113.3,392.1" fill="#929497"/>
<polygon points="999.8,296.8 999.9,299.5 1113.4,396.5 1113.4,393.7" fill="#939598"/>
<polygon points="998.4,297.1 998.5,299.8 1114.9,399.4 1114.9,396.6" fill="#babcbe"/>
<polygon points="998.2,298.5 998.3,301.1 1115.1,401.2 1115.1,398.4" fill="#c0c2c4"/>
<polygon points="998.3,300.0 998.4,302.6 1115.1,402.9 1115.1,400.1" fill="#c1c3c5"/>
<polygon points="998.3,301.5 998.4,304.1 1115.2,404.5 1115.2,401.7" fill="#c2c4c6"/>
<polygon points="998.4,303.1 998.5,305.7 1115.2,406.1 1115.2,403.4" fill="#c2c4c6"/>
<polygon points="998.4,304.6 998.5,307.2 1115.2,407.8 1115.2,405.0" fill="#c3c5c7"/>
<polygon points="998.4,306.1 998.6,308.7 1115.2,409.5 1115.2,406.7" fill="#c4c6c8"/>
<polygon points="998.5,307.6 998.6,310.2 1115.3,411.1 1115.3,408.3" fill="#c5c7c9"/>
<polygon points="998.4,309.0 998.5,311.7 1115.4,412.9 1115.4,410.1" fill="#c9cbcd"/>
<polygon points="998.4,310.5 998.5,313.1 1115.5,414.6 1115.5,411.8" fill="#ececee"/>
<polygon points="998.5,312.0 998.6,314.7 1115.5,416.2 1115.5,413.4" fill="#eaebec"/>
<polygon points="998.5,313.6 998.7,316.2 1115.5,417.8 1115.5,415.1" fill="#e9eaeb"/>
<polygon points="998.6,315.1 998.7,317.8 1115.5,419.4 1115.5,416.7" fill="#dadbdc"/>
<polygon points="1000.9,318.6 1001.0,321.2 1113.3,419.2 1113.3,416.4" fill="#919396"/>
<polygon points="1000.9,320.1 1001.1,322.8 1113.3,420.8 1113.3,418.1" fill="#929497"/>
<polygon points="1001.0,321.6 1001.1,324.3 1113.4,422.5 1113.4,419.7" fill="#939598"/>
<polygon points="1000.1,322.3 1000.2,325.0 1114.4,425.0 1114.4,422.2" fill="#adafb2"/>
<polygon points="999.4,323.3 999.6,325.9 1115.1,427.2 1115.1,424.4" fill="#c0c2c4"/>
<polygon points="999.5,324.8 999.6,327.4 1115.1,428.8 1115.1,426.1" fill="#c0c2c4"/>
<polygon points="999.5,326.3 999.7,329.0 1115.1,430.5 1115.1,427.7" fill="#c1c3c5"/>
<polygon points="999.6,327.8 999.7,330.5 1115.2,432.1 1115.2,429.4" fill="#c2c4c6"/>
<polygon points="999.6,329.4 999.7,332.0 1115.2,433.8 1115.2,431.0" fill="#c3c5c7"/>
<polygon points="999.7,330.9 999.8,333.5 1115.2,435.5 1115.2,432.7" fill="#c4c6c8"/>
<polygon points="999.7,332.4 999.8,335.0 1115.3,437.1 1115.3,434.4" fill="#c5c7c9"/>
<polygon points="999.7,333.9 999.9,336.5 1115.3,438.8 1115.3,436.0" fill="#c6c8ca"/>
<polygon points="999.6,335.3 999.7,337.9 1115.5,440.6 1115.5,437.8" fill="#ebebed"/>
<polygon points="999.7,336.8 999.8,339.5 1115.5,442.2 1115.5,439.5" fill="#ebebed"/>
<polygon points="999.8,338.4 999.9,341.0 1115.5,443.8 1115.5,441.1" fill="#e9eaeb"/>
<polygon points="999.8,339.9 1000.0,342.6 1115.5,445.5 1115.5,442.7" fill="#e8e9ea"/>
<polygon points="1002.1,343.4 1002.2,346.0 1113.3,445.2 1113.3,442.4" fill="#919396"/>
<polygon points="1002.1,344.9 1002.2,347.6 1113.4,446.8 1113.4,444.1" fill="#929497"/>
<polygon points="1002.2,346.4 1002.3,349.1 1113.4,448.5 1113.4,445.7" fill="#939598"/>
<polygon points="1001.0,346.9 1001.2,349.6 1114.6,451.2 1114.6,448.4" fill="#b3b5b7"/>
<polygon points="1000.4,347.9 1000.6,350.5 1115.3,453.4 1115.3,450.6" fill="#c5c7c9"/>
<polygon points="1000.5,349.4 1000.6,352.0 1115.3,455.0 1115.3,452.3" fill="#c6c8ca"/>
<polygon points="1000.5,350.9 1000.7,353.5 1115.3,456.7 1115.3,453.9" fill="#c7c9cb"/>
<polygon points="1000.6,352.4 1000.6,354.0 1115.4,457.2 1115.4,455.6" fill="#c8cacc"/>
<polygon points="1213.4,137.2 1213.4,139.2 1333.2,201.4 1333.3,199.1" fill="#c8cacc"/>
<polygon points="1213.4,138.3 1213.4,140.3 1333.2,202.8 1333.3,200.5" fill="#c8cacc"/>
<polygon points="1213.5,139.5 1213.5,141.5 1333.1,204.1 1333.2,201.8" fill="#c7c9cb"/>
<polygon points="1213.5,140.7 1213.5,142.7 1333.1,205.4 1333.1,203.1" fill="#c7c9cb"/>
<polygon points="1213.5,141.9 1213.5,143.9 1333.0,206.8 1333.1,204.5" fill="#c7c9cb"/>
<polygon points="1213.6,143.1 1213.6,145.0 1332.9,208.1 1333.0,205.8" fill="#c6c8ca"/>
<polygon points="1213.9,144.4 1213.9,146.4 1332.6,209.3 1332.6,207.0" fill="#bfc1c3"/>
<polygon points="1214.4,145.8 1214.5,147.8 1332.0,210.3 1332.0,208.0" fill="#b3b5b8"/>
<polygon points="1214.5,147.0 1214.5,149.0 1331.9,211.6 1331.9,209.3" fill="#b2b4b7"/>
<polygon points="1214.6,148.2 1214.6,150.2 1331.7,212.9 1331.8,210.6" fill="#b0b2b5"/>
<polygon points="1214.7,149.4 1214.7,151.4 1331.7,214.2 1331.7,212.0" fill="#afb1b4"/>
<polygon points="1215.7,151.2 1215.7,153.1 1330.5,215.0 1330.6,212.7" fill="#989a9d"/>
<polygon points="1216.6,152.8 1216.6,154.8 1329.5,215.8 1329.6,213.5" fill="#84868a"/>
<polygon points="1216.6,154.0 1216.6,156.0 1329.5,217.2 1329.5,214.9" fill="#84868a"/>
<polygon points="1216.6,155.1 1216.7,157.1 1329.4,218.5 1329.5,216.2" fill="#84868a"/>
<polygon points="1213.5,154.6 1213.5,156.6 1332.8,221.7 1332.9,219.4" fill="#d2d4d6"/>
<polygon points="1213.5,155.8 1213.6,157.8 1332.8,223.1 1332.9,220.8" fill="#d1d3d5"/>
<polygon points="1213.5,157.0 1213.6,158.9 1332.8,224.4 1332.8,222.1" fill="#d0d2d4"/>
<polygon points="1213.6,158.1 1213.6,160.1 1332.7,225.7 1332.8,223.5" fill="#cfd1d3"/>
<polygon points="1213.6,159.3 1213.6,161.3 1332.7,227.1 1332.7,224.8" fill="#ced0d2"/>
<polygon points="1213.6,160.5 1213.6,162.5 1332.7,228.4 1332.7,226.2" fill="#cdcfd1"/>
<polygon points="1213.9,161.8 1213.9,163.8 1332.3,229.6 1332.4,227.3" fill="#c5c7c9"/>
<polygon points="1214.7,163.4 1214.8,165.4 1331.4,230.5 1331.4,228.2" fill="#b2b4b7"/>
<polygon points="1214.8,164.6 1214.8,166.6 1331.3,231.8 1331.3,229.5" fill="#b1b3b6"/>
<polygon points="1214.9,165.8 1214.9,167.8 1331.2,233.1 1331.3,230.8" fill="#b0b2b5"/>
<polygon points="1214.9,167.0 1215.0,169.0 1331.1,234.4 1331.2,232.1" fill="#afb1b4"/>
<polygon points="1215.0,168.2 1215.0,170.2 1331.0,235.7 1331.1,233.4" fill="#aeb0b3"/>
<polygon points="1215.0,169.4 1215.0,171.4 1331.0,237.1 1331.0,234.8" fill="#aeb0b3"/>
<polygon points="1215.8,171.0 1215.8,172.9 1330.1,238.0 1330.2,235.7" fill="#9d9fa2"/>
<polygon points="1216.9,172.7 1216.9,174.7 1328.9,238.6 1329.0,236.3" fill="#84868a"/>
<polygon points="1216.9,173.9 1216.9,175.9 1328.9,240.0 1328.9,237.7" fill="#84868a"/>
<polygon points="1216.9,175.1 1216.9,177.1 1328.8,241.3 1328.9,239.0" fill="#84868a"/>
<polygon points="1213.8,174.5 1213.9,176.5 1332.2,244.6 1332.3,242.3" fill="#d2d4d6"/>
<polygon points="1213.9,175.7 1213.9,177.7 1332.2,246.0 1332.2,243.7" fill="#d1d3d5"/>
<polygon points="1213.9,176.8 1213.9,178.8 1332.1,247.3 1332.2,245.0" fill="#d0d2d4"/>
<polygon points="1213.9,178.0 1213.9,180.0 1332.1,248.6 1332.2,246.4" fill="#cfd1d3"/>
<polygon points="1213.9,179.2 1213.9,181.2 1332.1,250.0 1332.1,247.7" fill="#ced0d2"/>
<polygon points="1213.9,180.3 1214.0,182.3 1332.0,251.3 1332.1,249.1" fill="#cdcfd1"/>
<polygon points="1214.8,182.0 1214.8,184.0 1331.1,252.2 1331.1,249.9" fill="#b8babd"/>
<polygon points="1215.1,183.3 1215.1,185.3 1330.7,253.3 1330.8,251.0" fill="#b1b3b6"/>
<polygon points="1215.2,184.5 1215.2,186.5 1330.6,254.6 1330.7,252.3" fill="#b0b2b5"/>
<polygon points="1215.2,185.7 1215.2,187.7 1330.6,256.0 1330.6,253.7" fill="#b0b2b5"/>
<polygon points="1215.2,186.9 1215.3,188.9 1330.5,257.3 1330.6,255.0" fill="#afb1b4"/>
<polygon points="1215.3,188.1 1215.3,190.1 1330.4,258.6 1330.5,256.3" fill="#aeb0b3"/>
<polygon points="1215.4,189.3 1215.4,191.3 1330.3,259.9 1330.4,257.6" fill="#adafb2"/>
<polygon points="1217.1,191.5 1217.2,193.5 1328.4,260.1 1328.4,257.8" fill="#84868a"/>
<polygon points="1217.2,192.7 1217.2,194.7 1328.3,261.5 1328.4,259.2" fill="#84868a"/>
<polygon points="1217.2,193.9 1217.2,195.8 1328.3,262.8 1328.4,260.5" fill="#84868a"/>
<polygon points="1214.1,193.2 1214.2,195.2 1331.6,266.2 1331.7,263.9" fill="#cfd1d3"/>
<polygon points="1214.2,194.4 1214.2,196.4 1331.6,267.5 1331.6,265.2" fill="#ced0d2"/>
<polygon points="1214.2,195.5 1214.2,197.5 1331.5,268.9 1331.6,266.6" fill="#cdcfd1"/>
<polygon points="1214.2,196.7 1214.2,198.7 1331.5,270.2 1331.5,267.9" fill="#cbcdcf"/>
<polygon points="1214.3,197.9 1214.3,199.9 1331.4,271.5 1331.5,269.2" fill="#caccce"/>
<polygon points="1214.3,199.1 1214.4,201.1 1331.3,272.8 1331.4,270.5" fill="#c9cbcd"/>
<polygon points="1214.4,200.3 1214.4,202.3 1331.2,274.1 1331.3,271.9" fill="#c8cacc"/>
<polygon points="1214.5,201.5 1214.5,202.7 1331.2,274.5 1331.2,273.2" fill="#c7c9cb"/>
<polygon points="1336.4,202.8 1336.4,204.8 1483.0,268.5 1483.1,265.9" fill="#c8cacc"/>
<polygon points="1336.4,204.0 1336.4,206.0 1482.9,270.1 1483.0,267.4" fill="#c8cacc"/>
<polygon points="1336.5,205.2 1336.5,207.3 1482.8,271.6 1482.9,269.0" fill="#c7c9cb"/>
<polygon points="1336.5,206.4 1336.5,208.4 1482.7,273.1 1482.8,270.5" fill="#c7c9cb"/>
<polygon points="1336.5,207.6 1336.5,209.6 1482.6,274.7 1482.7,272.1" fill="#c7c9cb"/>
<polygon points="1336.6,208.8 1336.6,210.9 1482.5,276.2 1482.6,273.6" fill="#c6c8ca"/>
<polygon points="1337.0,210.2 1337.0,212.2 1481.9,277.6 1482.0,274.9" fill="#bfc1c3"/>
<polygon points="1337.7,211.7 1337.7,213.7 1481.0,278.8 1481.2,276.1" fill="#b3b5b8"/>
<polygon points="1337.7,212.9 1337.7,215.0 1480.9,280.3 1481.0,277.6" fill="#b2b4b7"/>
<polygon points="1337.9,214.2 1337.9,216.2 1480.7,281.8 1480.8,279.1" fill="#b0b2b5"/>
<polygon points="1337.9,215.4 1337.9,217.4 1480.5,283.3 1480.7,280.6" fill="#afb1b4"/>
<polygon points="1339.2,217.2 1339.3,219.2 1478.9,284.1 1479.0,281.5" fill="#989a9d"/>
<polygon points="1340.4,218.9 1340.4,221.0 1477.5,285.0 1477.6,282.4" fill="#84868a"/>
<polygon points="1340.4,220.1 1340.4,222.2 1477.4,286.6 1477.5,283.9" fill="#84868a"/>
<polygon points="1340.4,221.3 1340.4,223.4 1477.3,288.1 1477.4,285.5" fill="#84868a"/>
<polygon points="1336.4,220.6 1336.4,222.7 1482.1,291.9 1482.2,289.3" fill="#d2d4d6"/>
<polygon points="1336.4,221.8 1336.4,223.9 1482.0,293.5 1482.1,290.9" fill="#d1d3d5"/>
<polygon points="1336.4,223.0 1336.4,225.1 1481.9,295.0 1482.0,292.4" fill="#d0d2d4"/>
<polygon points="1336.4,224.2 1336.4,226.3 1481.8,296.6 1482.0,294.0" fill="#cfd1d3"/>
<polygon points="1336.4,225.4 1336.4,227.5 1481.8,298.2 1481.9,295.5" fill="#ced0d2"/>
<polygon points="1336.4,226.6 1336.4,228.6 1481.7,299.7 1481.8,297.1" fill="#cdcfd1"/>
<polygon points="1336.8,228.0 1336.8,230.0 1481.2,301.0 1481.3,298.4" fill="#c5c7c9"/>
<polygon points="1337.9,229.7 1337.9,231.7 1479.8,302.0 1479.9,299.3" fill="#b2b4b7"/>
<polygon points="1337.9,230.9 1338.0,233.0 1479.7,303.5 1479.8,300.9" fill="#b1b3b6"/>
<polygon points="1338.0,232.1 1338.0,234.2 1479.5,305.0 1479.7,302.4" fill="#b0b2b5"/>
<polygon points="1338.1,233.4 1338.1,235.4 1479.4,306.5 1479.5,303.9" fill="#afb1b4"/>
<polygon points="1338.1,234.6 1338.1,236.6 1479.2,308.0 1479.4,305.4" fill="#aeb0b3"/>
<polygon points="1338.1,235.8 1338.2,237.8 1479.2,309.6 1479.3,307.0" fill="#aeb0b3"/>
<polygon points="1339.1,237.5 1339.1,239.5 1478.0,310.6 1478.1,307.9" fill="#9d9fa2"/>
<polygon points="1340.5,239.4 1340.5,241.4 1476.2,311.3 1476.3,308.6" fill="#84868a"/>
<polygon points="1340.5,240.6 1340.5,242.6 1476.1,312.8 1476.3,310.2" fill="#84868a"/>
<polygon points="1340.5,241.8 1340.5,243.8 1476.1,314.4 1476.2,311.7" fill="#84868a"/>
<polygon points="1336.6,240.9 1336.6,243.0 1480.7,318.4 1480.9,315.7" fill="#d2d4d6"/>
<polygon points="1336.6,242.1 1336.6,244.2 1480.7,319.9 1480.8,317.3" fill="#d1d3d5"/>
<polygon points="1336.6,243.3 1336.6,245.4 1480.6,321.5 1480.7,318.8" fill="#d0d2d4"/>
<polygon points="1336.6,244.5 1336.6,246.6 1480.5,323.0 1480.6,320.4" fill="#cfd1d3"/>
<polygon points="1336.6,245.7 1336.6,247.8 1480.4,324.6 1480.6,321.9" fill="#ced0d2"/>
<polygon points="1336.6,246.9 1336.6,249.0 1480.3,326.1 1480.5,323.5" fill="#cdcfd1"/>
<polygon points="1337.7,248.7 1337.7,250.7 1479.0,327.0 1479.1,324.4" fill="#b8babd"/>
<polygon points="1338.1,250.1 1338.1,252.1 1478.5,328.3 1478.6,325.7" fill="#b1b3b6"/>
<polygon points="1338.2,251.3 1338.2,253.4 1478.3,329.8 1478.4,327.2" fill="#b0b2b5"/>
<polygon points="1338.2,252.5 1338.2,254.6 1478.2,331.4 1478.4,328.7" fill="#b0b2b5"/>
<polygon points="1338.2,253.7 1338.2,255.8 1478.1,332.9 1478.2,330.2" fill="#afb1b4"/>
<polygon points="1338.3,255.0 1338.3,257.0 1478.0,334.4 1478.1,331.8" fill="#aeb0b3"/>
<polygon points="1338.4,256.2 1338.4,258.2 1477.8,335.9 1477.9,333.3" fill="#adafb2"/>
<polygon points="1340.6,258.6 1340.6,260.7 1475.1,336.0 1475.2,333.3" fill="#84868a"/>
<polygon points="1340.6,259.8 1340.6,261.9 1475.0,337.5 1475.1,334.9" fill="#84868a"/>
<polygon points="1340.6,261.1 1340.6,263.1 1474.9,339.1 1475.0,336.4" fill="#84868a"/>
<polygon points="1336.8,260.1 1336.8,262.1 1479.5,343.2 1479.6,340.6" fill="#cfd1d3"/>
<polygon points="1336.8,261.3 1336.8,263.3 1479.4,344.8 1479.5,342.1" fill="#ced0d2"/>
<polygon points="1336.8,262.5 1336.8,264.5 1479.3,346.3 1479.5,343.7" fill="#cdcfd1"/>
<polygon points="1336.8,263.7 1336.8,265.7 1479.2,347.9 1479.4,345.2" fill="#cbcdcf"/>
<polygon points="1336.9,264.9 1336.9,266.9 1479.1,349.4 1479.2,346.8" fill="#caccce"/>
<polygon points="1336.9,266.1 1337.0,268.2 1478.9,350.9 1479.1,348.3" fill="#c9cbcd"/>
<polygon points="1337.0,267.4 1337.0,269.4 1478.8,352.4 1478.9,349.8" fill="#c8cacc"/>
<polygon points="1337.1,268.6 1337.1,269.8 1478.7,352.8 1478.8,351.3" fill="#c7c9cb"/>
<polygon points="1336.5,204.3 1352.0,210.8 1352.1,223.0 1336.7,216.5" fill="#a3a5a9" opacity="0.85"/>
<polygon points="1336.8,223.2 1352.2,229.8 1352.2,243.2 1337.0,236.8" fill="#a3a5a9" opacity="0.85"/>
<polygon points="1337.1,243.5 1352.3,250.0 1352.4,263.5 1337.3,257.0" fill="#a3a5a9" opacity="0.85"/>
<polygon points="1219.3,364.7 1219.3,367.8 1458.3,323.5 1458.3,320.7" fill="#caccce"/>
<polygon points="1219.3,366.5 1219.3,369.6 1458.2,325.2 1458.3,322.3" fill="#c9cbcd"/>
<polygon points="1219.4,368.3 1219.4,371.4 1458.2,326.8 1458.2,324.0" fill="#c8cacc"/>
<polygon points="1219.4,370.1 1219.4,373.2 1458.1,328.5 1458.1,325.7" fill="#c7c9cb"/>
<polygon points="1219.5,371.9 1219.5,375.0 1458.1,330.1 1458.1,327.3" fill="#c6c8ca"/>
<polygon points="1222.3,373.2 1222.3,376.3 1455.3,332.3 1455.3,329.5" fill="#87898c"/>
<polygon points="1222.2,375.0 1222.2,378.1 1455.4,334.0 1455.4,331.2" fill="#898b8e"/>
<polygon points="1221.8,376.9 1221.8,380.0 1455.7,335.6 1455.7,332.7" fill="#919396"/>
<polygon points="1220.3,379.0 1220.3,382.1 1457.2,336.9 1457.3,334.1" fill="#b4b6b9"/>
<polygon points="1220.2,380.8 1220.2,383.9 1457.3,338.6 1457.3,335.7" fill="#b5b7ba"/>
<polygon points="1220.2,382.6 1220.2,385.7 1457.3,340.2 1457.3,337.4" fill="#b6b8bb"/>
<polygon points="1220.1,384.5 1220.1,387.5 1457.4,341.8 1457.4,339.0" fill="#b8babd"/>
<polygon points="1219.2,386.4 1219.2,389.5 1458.2,343.3 1458.2,340.5" fill="#d5d7d9"/>
<polygon points="1219.2,388.2 1219.2,391.3 1458.2,345.0 1458.2,342.2" fill="#dfe0e2"/>
<polygon points="1219.2,390.0 1219.2,393.1 1458.2,346.6 1458.2,343.8" fill="#dfe0e2"/>
<polygon points="1219.2,391.8 1219.2,394.9 1458.2,348.3 1458.2,345.5" fill="#dedfe1"/>
<polygon points="1219.2,393.7 1219.2,396.7 1458.2,350.0 1458.2,347.1" fill="#cccdcf"/>
<polygon points="1219.5,395.4 1219.5,398.5 1457.9,351.7 1457.9,348.9" fill="#c5c7c9"/>
<polygon points="1219.5,397.2 1219.5,400.3 1457.9,353.3 1457.9,350.5" fill="#c6c8ca"/>
<polygon points="1219.4,399.0 1219.4,402.1 1458.0,355.0 1458.0,352.1" fill="#c7c9cb"/>
<polygon points="1219.4,400.9 1219.4,403.9 1457.9,356.6 1458.0,353.8" fill="#c7c9cb"/>
<polygon points="1219.4,402.7 1219.4,405.7 1458.0,358.3 1458.0,355.4" fill="#c8cacc"/>
<polygon points="1221.6,404.0 1221.6,407.1 1455.7,360.4 1455.7,357.5" fill="#95979a"/>
<polygon points="1222.2,405.7 1222.2,408.8 1455.2,362.1 1455.2,359.3" fill="#898b8e"/>
<polygon points="1222.1,407.6 1222.1,410.6 1455.3,363.8 1455.3,360.9" fill="#8b8d90"/>
<polygon points="1220.3,409.7 1220.3,412.8 1457.0,365.1 1457.0,362.2" fill="#b3b5b8"/>
<polygon points="1220.2,411.5 1220.2,414.6 1457.1,366.7 1457.1,363.9" fill="#b5b7ba"/>
<polygon points="1220.2,413.4 1220.2,416.4 1457.1,368.3 1457.1,365.5" fill="#b6b8bb"/>
<polygon points="1220.1,415.2 1220.1,418.3 1457.2,370.0 1457.2,367.2" fill="#b8babd"/>
<polygon points="1219.2,417.2 1219.2,420.2 1458.0,371.5 1458.1,368.6" fill="#d9dadc"/>
<polygon points="1219.2,419.0 1219.2,422.0 1458.0,373.1 1458.0,370.3" fill="#e2e3e5"/>
<polygon points="1219.2,420.8 1219.2,423.9 1458.0,374.8 1458.0,372.0" fill="#e1e2e4"/>
<polygon points="1219.2,422.6 1219.2,425.7 1458.0,376.4 1458.0,373.6" fill="#e0e1e3"/>
<polygon points="1219.2,424.4 1219.2,427.5 1458.0,378.1 1458.0,375.3" fill="#d5d6d8"/>
<polygon points="1219.5,426.1 1219.5,429.2 1457.7,379.8 1457.7,377.0" fill="#c5c7c9"/>
<polygon points="1219.5,428.0 1219.5,431.0 1457.7,381.4 1457.8,378.6" fill="#c6c8ca"/>
<polygon points="1219.4,429.8 1219.4,432.9 1457.8,383.1 1457.8,380.3" fill="#c7c9cb"/>
<polygon points="1219.4,431.6 1219.4,434.7 1457.8,384.7 1457.8,381.9" fill="#c8cacc"/>
<polygon points="1221.2,433.0 1221.2,436.1 1456.0,386.8 1456.0,383.9" fill="#9fa1a4"/>
<polygon points="1222.2,434.6 1222.2,437.7 1455.0,388.6 1455.0,385.8" fill="#888a8d"/>
<polygon points="1222.1,436.5 1222.1,439.5 1455.0,390.3 1455.1,387.4" fill="#8a8c8f"/>
<polygon points="1220.3,438.6 1220.3,441.7 1456.8,391.5 1456.9,388.7" fill="#b3b5b8"/>
<polygon points="1220.2,440.5 1220.2,443.5 1456.9,393.2 1456.9,390.4" fill="#b5b7ba"/>
<polygon points="1220.2,442.3 1220.2,445.4 1456.9,394.8 1457.0,392.0" fill="#b6b8bb"/>
<polygon points="1220.1,444.1 1220.1,447.2 1457.0,396.5 1457.0,393.6" fill="#b8babd"/>
<polygon points="1219.2,446.1 1219.2,449.2 1457.9,397.9 1457.9,395.1" fill="#d9dbdd"/>
<polygon points="1219.2,447.9 1219.2,451.0 1457.8,399.6 1457.9,396.8" fill="#dfe0e2"/>
<polygon points="1219.2,449.7 1219.2,452.8 1457.8,401.2 1457.9,398.4" fill="#dfe0e2"/>
<polygon points="1219.2,451.5 1219.2,454.6 1457.8,402.9 1457.8,400.1" fill="#dedfe1"/>
<polygon points="1219.2,453.3 1219.2,456.4 1457.8,404.5 1457.8,401.7" fill="#d1d3d5"/>
<polygon points="1219.4,455.1 1219.4,458.2 1457.7,406.2 1457.7,403.4" fill="#c8cacc"/>
<polygon points="1219.3,456.9 1219.3,460.0 1457.7,407.9 1457.7,405.1" fill="#c9cbcd"/>
<polygon points="1219.3,458.7 1219.3,461.8 1457.7,409.5 1457.7,406.7" fill="#c9cbcd"/>
<polygon points="1219.3,460.6 1219.3,463.6 1457.7,411.2 1457.7,408.4" fill="#caccce"/>
<polygon points="1219.3,462.4 1219.3,465.4 1457.7,412.8 1457.7,410.0" fill="#caccce"/>
<polygon points="1219.3,464.2 1219.3,466.0 1457.7,413.3 1457.8,411.7" fill="#cbcdcf"/>
<circle cx="1226.0" cy="369.5" r="1.40" fill="#f6f6f7"/>
<circle cx="1453.0" cy="327.0" r="1.40" fill="#f6f6f7"/>
<circle cx="1226.0" cy="399.3" r="1.40" fill="#f6f6f7"/>
<circle cx="1452.8" cy="354.2" r="1.40" fill="#f6f6f7"/>
<circle cx="1226.0" cy="429.2" r="1.40" fill="#f6f6f7"/>
<circle cx="1452.7" cy="381.3" r="1.40" fill="#f6f6f7"/>
<circle cx="1226.0" cy="458.0" r="1.40" fill="#f6f6f7"/>
<circle cx="1452.5" cy="407.6" r="1.40" fill="#f6f6f7"/>
</g>
<rect x="1205" y="100" width="23.8" height="52" fill="#fff"/>
<line x1="1101.0" y1="365.0" x2="1001.0" y2="268.0" stroke="#ffffff" stroke-width="0.00"/>
<g filter="url(#soft)">
<linearGradient id="gCf" x1="0" y1="0" x2="0" y2="1"><stop offset="0" stop-color="#8b8d91"/><stop offset="0.55" stop-color="#a9abaf"/><stop offset="1" stop-color="#cfd1d4"/></linearGradient>
<linearGradient id="gCr" x1="0" y1="0" x2="0" y2="1"><stop offset="0" stop-color="#85878b"/><stop offset="0.7" stop-color="#8f9195"/><stop offset="1" stop-color="#c4c6c9"/></linearGradient>
<polygon points="1160.2,131.0 1168.0,132.0 1168.0,205.5 1160.2,205.5" fill="url(#gCf)"/>
<polygon points="1168.0,132.0 1192.0,134.5 1192.0,205.5 1168.0,205.5" fill="#e5e7ef"/>
<polygon points="1192.0,136.0 1196.6,134.0 1196.6,205.5 1192.0,205.5" fill="url(#gCr)"/>
<circle cx="1164.0" cy="135.5" r="1.20" fill="#f6f6f7"/>
<circle cx="1164.0" cy="157.5" r="1.20" fill="#f6f6f7"/>
<circle cx="1164.0" cy="179.5" r="1.20" fill="#f6f6f7"/>
<circle cx="1164.0" cy="200.5" r="1.20" fill="#f6f6f7"/>
<line x1="1187.5" y1="137.0" x2="1196.6" y2="132.3" stroke="#7ab51d" stroke-width="2.40" stroke-linecap="round"/>
<circle cx="1187.5" cy="137.0" r="3.00" fill="#7ab51d"/>
<polygon points="1142.5,364.7 1148.6,369.5 1149.0,469.6 1143.1,464.4" fill="#b6b8bb"/>
<linearGradient id="gC" x1="0" y1="0" x2="0" y2="1"><stop offset="0" stop-color="#d9dce4"/><stop offset="1" stop-color="#c4c7ce"/></linearGradient>
<polygon points="1148.3,368.9 1183.0,377.3 1183.0,473.8 1149.0,469.6" fill="url(#gC)"/>
<polygon points="1183.0,374.0 1193.5,371.0 1193.9,471.7 1183.0,473.8" fill="#aeb0b4"/>
<circle cx="1188.2" cy="376.9" r="1.30" fill="#f6f6f7"/>
<circle cx="1188.2" cy="407.7" r="1.30" fill="#f6f6f7"/>
<circle cx="1188.2" cy="438.2" r="1.30" fill="#f6f6f7"/>
<circle cx="1188.2" cy="468.6" r="1.30" fill="#f6f6f7"/>
<circle cx="1145.6" cy="372.0" r="0.90" fill="#e6e6e8"/>
<circle cx="1145.6" cy="402.0" r="0.90" fill="#e6e6e8"/>
<circle cx="1145.6" cy="433.0" r="0.90" fill="#e6e6e8"/>
<circle cx="1145.6" cy="462.0" r="0.90" fill="#e6e6e8"/>
<polygon points="1492.8,296.2 1499.0,298.0 1494.7,388.4 1489.5,400.0 1490.6,310.4" fill="#b1b3b7"/>
<polygon points="1484.2,311.4 1490.9,310.4 1489.5,400.5 1478.5,405.5" fill="#d0d2d5"/>
<line x1="1491.0" y1="310.5" x2="1489.6" y2="400.0" stroke="#a0a2a6" stroke-width="1.00"/>
<circle cx="1495.9" cy="303.0" r="0.90" fill="#f6f6f7"/>
<circle cx="1494.0" cy="345.0" r="0.90" fill="#f6f6f7"/>
<circle cx="1492.2" cy="385.0" r="0.90" fill="#f6f6f7"/>
<circle cx="1487.2" cy="316.0" r="1.00" fill="#f8f8f9"/>
<circle cx="1485.6" cy="345.0" r="1.00" fill="#f8f8f9"/>
<circle cx="1484.1" cy="372.0" r="1.00" fill="#f8f8f9"/>
<circle cx="1482.6" cy="400.0" r="1.00" fill="#f8f8f9"/>
</g>
<g filter="url(#soft)">
<polyline points="953.0,272.0 950.5,244.3 1346.0,192.2 1349.5,223.0" fill="none" stroke="#97999d" stroke-width="2.60" stroke-linejoin="round"/>
<polyline points="954.2,271.0 952.0,246.0 1345.0,194.4" fill="none" stroke="#e4e5e7" stroke-width="1.00"/>
<polygon points="949.5,245.0 955.5,244.5 956.5,272.0 951.5,274.0" fill="#cfd0d3" opacity="0.9"/>
<line x1="950.0" y1="245.0" x2="952.0" y2="273.5" stroke="#97999d" stroke-width="1.20"/>
<line x1="955.5" y1="245.0" x2="956.5" y2="272.0" stroke="#97999d" stroke-width="1.00"/>
<polygon points="1343.5,193.0 1348.0,192.3 1351.0,223.0 1347.5,223.5" fill="#d9dadc"/>
<line x1="1343.8" y1="193.0" x2="1347.6" y2="223.5" stroke="#97999d" stroke-width="1.20"/>
<line x1="1348.0" y1="192.3" x2="1351.0" y2="223.0" stroke="#97999d" stroke-width="1.20"/>
<polyline points="1063.5,291.0 1064.4,318.0 1335.4,280.4 1334.8,254.5" fill="none" stroke="#97999d" stroke-width="2.40" stroke-linejoin="round"/>
<polyline points="1065.6,316.0 1335.0,279.0" fill="none" stroke="#e8e9ea" stroke-width="0.90"/>
<polyline points="965.6,276.8 945.5,278.2 950.0,367.8 966.2,365.9" fill="none" stroke="#a4a6aa" stroke-width="2.40" stroke-linejoin="round" stroke-linecap="round"/>
<polyline points="1365.4,189.4 1379.4,189.4 1379.2,211.8" fill="none" stroke="#b0b1b4" stroke-width="2.40" stroke-linejoin="round" stroke-linecap="round"/>
<path d="M892.0 165.0 L892.0 135.0 Q892.0 127.2 898.5 126.6 L903.0 126.0" fill="none" stroke="#adadaf" stroke-width="3.0" stroke-linecap="round"/>
<line x1="889.4" y1="145.5" x2="894.6" y2="145.5" stroke="#cfcfd3" stroke-width="2.40" stroke-linecap="round"/>
<path d="M1210.6 143.2 L1210.6 112.4 Q1210.6 104.6 1217.1 104.0 L1222.6 103.4" fill="none" stroke="#adadaf" stroke-width="3.0" stroke-linecap="round"/>
<line x1="1208.0" y1="123.3" x2="1213.2" y2="123.3" stroke="#cfcfd3" stroke-width="2.40" stroke-linecap="round"/>
<path d="M1417.8 209.0 L1417.8 178.8 Q1417.8 171.0 1424.3 170.4 L1429.8 169.8" fill="none" stroke="#adadaf" stroke-width="3.0" stroke-linecap="round"/>
<line x1="1415.2" y1="189.4" x2="1420.4" y2="189.4" stroke="#cfcfd3" stroke-width="2.40" stroke-linecap="round"/>
<path d="M980.4 421.4 L980.4 390.5 Q980.4 382.7 986.9 382.1 L992.4 381.5" fill="none" stroke="#adadaf" stroke-width="3.0" stroke-linecap="round"/>
<line x1="977.8" y1="401.4" x2="983.0" y2="401.4" stroke="#cfcfd3" stroke-width="2.40" stroke-linecap="round"/>
<path d="M1168.3 530.5 L1168.3 501.3 Q1168.3 493.5 1174.8 492.9 L1178.8 492.3" fill="none" stroke="#adadaf" stroke-width="3.0" stroke-linecap="round"/>
<line x1="1165.7" y1="511.4" x2="1170.9" y2="511.4" stroke="#cfcfd3" stroke-width="2.40" stroke-linecap="round"/>
<path d="M1509.8 452.7 L1509.8 422.0 Q1509.8 414.2 1516.3 413.6 L1521.6 413.0" fill="none" stroke="#adadaf" stroke-width="3.0" stroke-linecap="round"/>
<line x1="1507.2" y1="432.9" x2="1512.4" y2="432.9" stroke="#cfcfd3" stroke-width="2.40" stroke-linecap="round"/>
</g>
<g filter="url(#soft)">
<polygon points="875.0,649.0 875.0,652.1 1018.0,628.1 1018.0,625.5" fill="#b1b8c2"/>
<polygon points="875.0,650.9 875.0,654.0 1018.0,629.6 1018.0,627.0" fill="#aab1bb"/>
<polygon points="875.0,652.7 875.0,655.8 1018.0,631.1 1018.0,628.5" fill="#a9b0ba"/>
<polygon points="875.0,654.5 875.0,657.7 1018.0,632.6 1018.0,630.0" fill="#a8afb9"/>
<polygon points="875.0,656.4 875.0,659.5 1018.0,634.1 1018.0,631.5" fill="#a8afb9"/>
<polygon points="875.0,658.2 875.0,661.4 1018.0,635.6 1018.0,633.1" fill="#a8afb9"/>
<polygon points="875.0,660.1 875.0,663.2 1018.0,637.1 1018.0,634.6" fill="#a7aeb8"/>
<polygon points="875.0,662.0 875.0,665.1 1018.0,638.7 1018.0,636.1" fill="#a7aeb8"/>
<polygon points="875.0,663.8 875.0,666.9 1018.0,640.2 1018.0,637.6" fill="#a7aeb8"/>
<polygon points="875.0,665.6 875.0,668.8 1018.0,641.7 1018.0,639.1" fill="#a6adb7"/>
<polygon points="875.0,667.5 875.0,670.6 1018.0,643.2 1018.0,640.6" fill="#a6adb7"/>
<polygon points="875.0,669.4 875.0,672.5 1018.0,644.7 1018.0,642.1" fill="#bac1cb"/>
<polygon points="875.0,671.2 875.0,674.3 1018.0,646.2 1018.0,643.6" fill="#c9d0da"/>
<polygon points="875.0,673.0 875.0,676.2 1018.0,647.7 1018.0,645.2" fill="#c8cfd9"/>
<polygon points="875.0,674.9 875.0,678.0 1018.0,649.2 1018.0,646.7" fill="#c8cfd9"/>
<polygon points="875.0,676.8 875.0,679.9 1018.0,650.8 1018.0,648.2" fill="#c7ced8"/>
<polygon points="875.0,678.6 875.0,681.7 1018.0,652.3 1018.0,649.7" fill="#c7ced8"/>
<polygon points="875.0,680.5 875.0,683.6 1018.0,653.8 1018.0,651.2" fill="#c6cdd7"/>
<polygon points="875.0,682.3 875.0,685.4 1018.0,655.3 1018.0,652.7" fill="#aab1bb"/>
<polygon points="875.0,684.1 875.0,687.3 1018.0,656.8 1018.0,654.2" fill="#a2a9b3"/>
<polygon points="875.0,686.0 875.0,689.1 1018.0,658.3 1018.0,655.8" fill="#a3aab4"/>
<polygon points="875.0,687.9 875.0,691.0 1018.0,659.8 1018.0,657.3" fill="#a4abb5"/>
<polygon points="875.0,689.7 875.0,692.8 1018.0,661.3 1018.0,658.8" fill="#c0c7d1"/>
<polygon points="875.0,691.5 875.0,694.7 1018.0,662.9 1018.0,660.3" fill="#c9d0da"/>
<polygon points="875.0,693.4 875.0,696.5 1018.0,664.4 1018.0,661.8" fill="#c8cfd9"/>
<polygon points="875.0,695.2 875.0,698.4 1018.0,665.9 1018.0,663.3" fill="#c7ced8"/>
<polygon points="875.0,697.1 875.0,700.2 1018.0,667.4 1018.0,664.8" fill="#c7ced8"/>
<polygon points="875.0,699.0 875.0,702.1 1018.0,668.9 1018.0,666.3" fill="#c6cdd7"/>
<polygon points="875.0,700.8 875.0,703.9 1018.0,670.4 1018.0,667.9" fill="#b7bec8"/>
<polygon points="875.0,702.6 875.0,705.8 1018.0,671.9 1018.0,669.4" fill="#a1a8b2"/>
<polygon points="875.0,704.5 875.0,707.6 1018.0,673.4 1018.0,670.9" fill="#a3aab4"/>
<polygon points="875.0,706.4 875.0,709.5 1018.0,675.0 1018.0,672.4" fill="#adb4be"/>
<polygon points="875.0,708.2 875.0,711.3 1018.0,676.5 1018.0,673.9" fill="#c9d0da"/>
<polygon points="875.0,710.0 875.0,713.2 1018.0,678.0 1018.0,675.4" fill="#c8cfd9"/>
<polygon points="875.0,711.9 875.0,715.0 1018.0,679.5 1018.0,676.9" fill="#c7ced8"/>
<polygon points="875.0,713.8 875.0,716.9 1018.0,681.0 1018.0,678.4" fill="#c6cdd7"/>
<polygon points="875.0,715.6 875.0,718.7 1018.0,682.5 1018.0,680.0" fill="#b8bfc9"/>
<polygon points="875.0,717.5 875.0,720.6 1018.0,684.0 1018.0,681.5" fill="#a4abb5"/>
<polygon points="875.0,719.3 875.0,722.4 1018.0,685.5 1018.0,683.0" fill="#a4abb5"/>
<polygon points="875.0,721.1 875.0,723.0 1018.0,686.0 1018.0,684.5" fill="#a4abb5"/>
<polygon points="1040.0,627.0 1040.0,628.9 1516.0,703.7 1516.0,700.8" fill="#8c929b"/>
<polygon points="1040.0,628.1 1040.0,630.1 1516.0,705.5 1516.0,702.5" fill="#8d939c"/>
<polygon points="1040.0,629.3 1040.0,631.2 1516.0,707.2 1516.0,704.2" fill="#8d939c"/>
<polygon points="1040.0,630.4 1040.0,632.3 1516.0,708.9 1516.0,706.0" fill="#8e949d"/>
<polygon points="1040.0,631.5 1040.0,633.4 1516.0,710.6 1516.0,707.7" fill="#8e949d"/>
<polygon points="1040.0,632.6 1040.0,634.6 1516.0,712.4 1516.0,709.4" fill="#8f959e"/>
<polygon points="1040.0,633.8 1040.0,635.7 1516.0,714.1 1516.0,711.1" fill="#a0a7b1"/>
<polygon points="1040.0,634.9 1040.0,636.8 1516.0,715.8 1516.0,712.9" fill="#abb2bc"/>
<polygon points="1040.0,636.0 1040.0,638.0 1516.0,717.5 1516.0,714.6" fill="#afb6c0"/>
<polygon points="1040.0,637.2 1040.0,639.1 1516.0,719.2 1516.0,716.3" fill="#b3bac4"/>
<polygon points="1040.0,638.3 1040.0,640.2 1516.0,721.0 1516.0,718.0" fill="#b7bec8"/>
<polygon points="1040.0,639.4 1040.0,641.4 1516.0,722.7 1516.0,719.8" fill="#b8bfc9"/>
<polygon points="1040.0,640.6 1040.0,642.5 1516.0,724.4 1516.0,721.5" fill="#b6bcc6"/>
<polygon points="1040.0,641.7 1040.0,643.6 1516.0,726.1 1516.0,723.2" fill="#b3bac4"/>
<polygon points="1040.0,642.8 1040.0,644.7 1516.0,727.9 1516.0,724.9" fill="#9ca2ac"/>
<polygon points="1040.0,644.0 1040.0,645.9 1516.0,729.6 1516.0,726.7" fill="#878d96"/>
<polygon points="1040.0,645.1 1040.0,647.0 1516.0,731.3 1516.0,728.4" fill="#888e97"/>
<polygon points="1040.0,646.2 1040.0,648.1 1516.0,733.0 1516.0,730.1" fill="#898f98"/>
<polygon points="1040.0,647.3 1040.0,649.3 1516.0,734.8 1516.0,731.8" fill="#9096a0"/>
<polygon points="1040.0,648.5 1040.0,650.4 1516.0,736.5 1516.0,733.6" fill="#a9b0ba"/>
<polygon points="1040.0,649.6 1040.0,651.5 1516.0,738.2 1516.0,735.3" fill="#adb4be"/>
<polygon points="1040.0,650.7 1040.0,652.7 1516.0,739.9 1516.0,737.0" fill="#b0b7c1"/>
<polygon points="1040.0,651.9 1040.0,653.8 1516.0,741.7 1516.0,738.7" fill="#b4bbc5"/>
<polygon points="1040.0,653.0 1040.0,654.9 1516.0,743.4 1516.0,740.5" fill="#b7bec8"/>
<polygon points="1040.0,654.1 1040.0,656.0 1516.0,745.1 1516.0,742.2" fill="#b8bfc9"/>
<polygon points="1040.0,655.2 1040.0,657.2 1516.0,746.8 1516.0,743.9" fill="#b7bec8"/>
<polygon points="1040.0,656.4 1040.0,658.3 1516.0,748.6 1516.0,745.6" fill="#b5bcc6"/>
<polygon points="1040.0,657.5 1040.0,659.4 1516.0,750.3 1516.0,747.3" fill="#b4bbc5"/>
<polygon points="1040.0,658.6 1040.0,660.6 1516.0,752.0 1516.0,749.1" fill="#b2b9c3"/>
<polygon points="1040.0,659.8 1040.0,661.7 1516.0,753.7 1516.0,750.8" fill="#868c95"/>
<polygon points="1040.0,660.9 1040.0,662.8 1516.0,755.5 1516.0,752.5" fill="#878d96"/>
<polygon points="1040.0,662.0 1040.0,664.0 1516.0,757.2 1516.0,754.2" fill="#898f98"/>
<polygon points="1040.0,663.2 1040.0,665.1 1516.0,758.9 1516.0,756.0" fill="#8a9099"/>
<polygon points="1040.0,664.3 1040.0,666.2 1516.0,760.6 1516.0,757.7" fill="#a9b0ba"/>
<polygon points="1040.0,665.4 1040.0,667.3 1516.0,762.3 1516.0,759.4" fill="#acb3bd"/>
<polygon points="1040.0,666.5 1040.0,668.5 1516.0,764.1 1516.0,761.1" fill="#afb6c0"/>
<polygon points="1040.0,667.7 1040.0,669.6 1516.0,765.8 1516.0,762.9" fill="#b3bac4"/>
<polygon points="1040.0,668.8 1040.0,670.7 1516.0,767.5 1516.0,764.6" fill="#b6bdc7"/>
<polygon points="1040.0,669.9 1040.0,671.9 1516.0,769.2 1516.0,766.3" fill="#b9c0ca"/>
<polygon points="1040.0,671.1 1040.0,673.0 1516.0,771.0 1516.0,768.0" fill="#b7bec8"/>
<polygon points="1040.0,672.2 1040.0,674.1 1516.0,772.7 1516.0,769.8" fill="#b6bdc7"/>
<polygon points="1040.0,673.3 1040.0,675.3 1516.0,774.4 1516.0,771.5" fill="#b4bbc5"/>
<polygon points="1040.0,674.5 1040.0,676.4 1516.0,776.1 1516.0,773.2" fill="#b3bac4"/>
<polygon points="1040.0,675.6 1040.0,677.5 1516.0,777.9 1516.0,774.9" fill="#9ca2ac"/>
<polygon points="1040.0,676.7 1040.0,678.6 1516.0,779.6 1516.0,776.7" fill="#868c96"/>
<polygon points="1040.0,677.9 1040.0,679.8 1516.0,781.3 1516.0,778.4" fill="#888e96"/>
<polygon points="1040.0,679.0 1040.0,680.9 1516.0,783.0 1516.0,780.1" fill="#888e98"/>
<polygon points="1040.0,680.1 1040.0,682.0 1516.0,784.8 1516.0,781.8" fill="#8a9098"/>
<polygon points="1040.0,681.2 1040.0,683.2 1516.0,786.5 1516.0,783.6" fill="#8a909a"/>
<polygon points="1040.0,682.4 1040.0,683.5 1516.0,787.0 1516.0,785.3" fill="#8c929a"/>
<polygon points="1018.0,625.6 1040.5,627.0 1040.5,682.0 1018.0,679.0" fill="#a1a8b2"/>
<line x1="1018.5" y1="626.0" x2="1040.0" y2="627.2" stroke="#c8cdd5" stroke-width="1.20"/>
<circle cx="1021.5" cy="629.0" r="1.00" fill="#dfe3e8"/>
<circle cx="1037.5" cy="630.0" r="1.00" fill="#dfe3e8"/>
<circle cx="1021.5" cy="675.0" r="1.00" fill="#dfe3e8"/>
<circle cx="1037.5" cy="677.5" r="1.00" fill="#dfe3e8"/>
<polygon points="1013.0,682.5 1046.0,684.0 1424.0,767.0 1419.0,772.0 1371.0,776.0 1069.0,701.0 1064.3,698.0 1013.0,686.0" fill="#fdfdfd"/>
<polygon points="1013.0,683.0 1046.0,684.0 1250.0,728.8 1250.0,734.0 1100.0,700.0" fill="#eceef1" opacity="0.6"/>
<polygon points="1514.0,699.5 1532.0,711.5 1530.0,716.0 1514.0,704.0" fill="#5d6169"/>
<polygon points="1419.0,768.5 1419.0,772.1 1529.9,713.5 1530.0,710.5" fill="#bdc4cd"/>
<polygon points="1419.0,770.6 1419.0,774.3 1529.9,715.3 1530.0,712.3" fill="#bcc3cc"/>
<polygon points="1419.0,772.8 1419.0,776.4 1529.9,717.1 1529.9,714.1" fill="#bbc2cb"/>
<polygon points="1419.0,774.9 1419.0,778.5 1529.8,718.8 1529.9,715.8" fill="#bac1ca"/>
<polygon points="1419.0,777.0 1419.0,780.6 1529.8,720.6 1529.8,717.6" fill="#b9c0c9"/>
<polygon points="1419.0,779.1 1419.0,782.8 1529.7,722.4 1529.8,719.4" fill="#b8bfc8"/>
<polygon points="1419.0,781.3 1419.0,784.9 1529.7,724.2 1529.8,721.2" fill="#b8bec8"/>
<polygon points="1419.0,783.4 1419.0,787.0 1529.7,726.0 1529.7,722.9" fill="#b7bdc7"/>
<polygon points="1419.0,785.5 1419.0,789.2 1529.6,727.7 1529.7,724.7" fill="#8b9199"/>
<polygon points="1419.0,787.7 1419.0,791.3 1529.6,729.5 1529.6,726.5" fill="#8d939b"/>
<polygon points="1419.0,789.8 1419.0,793.4 1529.5,731.3 1529.6,728.3" fill="#9ca3ab"/>
<polygon points="1419.0,791.9 1419.0,795.6 1529.5,733.1 1529.6,730.0" fill="#b8bfc8"/>
<polygon points="1419.0,794.1 1419.0,797.7 1529.5,734.8 1529.5,731.8" fill="#b7bdc7"/>
<polygon points="1419.0,796.2 1419.0,799.8 1529.4,736.6 1529.5,733.6" fill="#b5bbc5"/>
<polygon points="1419.0,798.3 1419.0,801.9 1529.4,738.4 1529.4,735.4" fill="#b3b9c3"/>
<polygon points="1419.0,800.5 1419.0,804.1 1529.3,740.2 1529.4,737.1" fill="#b1b8c1"/>
<polygon points="1419.0,802.6 1419.0,806.2 1529.3,741.9 1529.4,738.9" fill="#afb6bf"/>
<polygon points="1419.0,804.7 1419.0,808.3 1529.3,743.7 1529.3,740.7" fill="#adb4bd"/>
<polygon points="1419.0,806.8 1419.0,810.5 1529.2,745.5 1529.3,742.5" fill="#abb2bb"/>
<polygon points="1419.0,809.0 1419.0,812.6 1529.2,747.3 1529.2,744.2" fill="#a9b0b9"/>
<polygon points="1419.0,811.1 1419.0,814.7 1529.1,749.0 1529.2,746.0" fill="#a8aeb8"/>
<polygon points="1419.0,813.2 1419.0,816.9 1529.1,750.8 1529.2,747.8" fill="#8b9199"/>
<polygon points="1419.0,815.4 1419.0,819.0 1529.1,752.6 1529.1,749.6" fill="#8d939b"/>
<polygon points="1419.0,817.5 1419.0,821.1 1529.0,754.4 1529.1,751.3" fill="#9ca3ab"/>
<polygon points="1419.0,819.6 1419.0,823.2 1529.0,756.1 1529.0,753.1" fill="#b8bfc8"/>
<polygon points="1419.0,821.8 1419.0,825.4 1528.9,757.9 1529.0,754.9" fill="#b7bdc7"/>
<polygon points="1419.0,823.9 1419.0,827.5 1528.9,759.7 1529.0,756.7" fill="#b5bbc5"/>
<polygon points="1419.0,826.0 1419.0,829.6 1528.9,761.5 1528.9,758.5" fill="#b3b9c3"/>
<polygon points="1419.0,828.1 1419.0,831.8 1528.8,763.2 1528.9,760.2" fill="#b1b8c1"/>
<polygon points="1419.0,830.3 1419.0,833.9 1528.8,765.0 1528.8,762.0" fill="#afb6bf"/>
<polygon points="1419.0,832.4 1419.0,836.0 1528.7,766.8 1528.8,763.8" fill="#aeb5be"/>
<polygon points="1419.0,834.5 1419.0,838.2 1528.7,768.6 1528.8,765.6" fill="#acb3bc"/>
<polygon points="1419.0,836.7 1419.0,840.3 1528.7,770.4 1528.7,767.3" fill="#aab1ba"/>
<polygon points="1419.0,838.8 1419.0,842.4 1528.6,772.1 1528.7,769.1" fill="#a9b0b9"/>
<polygon points="1419.0,840.9 1419.0,844.5 1528.6,773.9 1528.6,770.9" fill="#a8aeb8"/>
<polygon points="1419.0,843.0 1419.0,846.7 1528.5,775.7 1528.6,772.7" fill="#8b9199"/>
<polygon points="1419.0,845.2 1419.0,848.8 1528.5,777.5 1528.6,774.4" fill="#8d939b"/>
<polygon points="1419.0,847.3 1419.0,850.9 1528.5,779.2 1528.5,776.2" fill="#9ca2aa"/>
<polygon points="1419.0,849.4 1419.0,853.1 1528.4,781.0 1528.5,778.0" fill="#b7bdc7"/>
<polygon points="1419.0,851.6 1419.0,855.2 1528.4,782.8 1528.4,779.8" fill="#b5bbc5"/>
<polygon points="1419.0,853.7 1419.0,857.3 1528.3,784.6 1528.4,781.5" fill="#b4bac4"/>
<polygon points="1419.0,855.8 1419.0,859.5 1528.3,786.3 1528.4,783.3" fill="#b2b8c2"/>
<polygon points="1419.0,858.0 1419.0,861.6 1528.3,788.1 1528.3,785.1" fill="#b0b7c0"/>
<polygon points="1419.0,860.1 1419.0,863.7 1528.2,789.9 1528.3,786.9" fill="#aeb5be"/>
<polygon points="1419.0,862.2 1419.0,865.8 1528.2,791.7 1528.2,788.6" fill="#acb3bc"/>
<polygon points="1419.0,864.4 1419.0,868.0 1528.1,793.4 1528.2,790.4" fill="#aab1ba"/>
<polygon points="1419.0,866.5 1419.0,870.1 1528.1,795.2 1528.2,792.2" fill="#a9afb8"/>
<polygon points="1419.0,868.6 1419.0,872.2 1528.1,797.0 1528.1,794.0" fill="#a7adb7"/>
<polygon points="1419.0,870.7 1419.0,874.4 1528.0,798.8 1528.1,795.7" fill="#a5abb5"/>
<polygon points="1419.0,872.9 1419.0,875.0 1528.0,799.3 1528.0,797.5" fill="#9aa1a9"/>
<polyline points="1530.0,711.0 1533.5,716.0 1533.0,733.0 1529.5,738.0 1533.0,744.0 1532.5,761.0 1529.0,766.0 1532.5,772.0 1532.0,789.0 1528.5,795.0 1528.0,800.0" fill="none" stroke="#666b73" stroke-width="1.70" stroke-linejoin="round"/>
<polygon points="875.2,650.9 875.2,653.4 1064.3,697.6 1064.3,694.6" fill="#b9c0ca"/>
<polygon points="875.2,652.4 875.2,654.8 1064.3,699.3 1064.3,696.3" fill="#b8bfc9"/>
<polygon points="875.2,653.8 875.1,656.3 1064.3,701.1 1064.3,698.1" fill="#b7bec8"/>
<polygon points="875.1,655.3 875.1,657.8 1064.3,702.8 1064.3,699.8" fill="#b6bdc7"/>
<polygon points="875.1,656.7 875.1,659.2 1064.3,704.6 1064.3,701.6" fill="#b5bcc6"/>
<polygon points="875.1,658.2 875.1,660.7 1064.3,706.3 1064.3,703.3" fill="#b4bbc5"/>
<polygon points="875.1,659.7 875.1,662.2 1064.3,708.1 1064.3,705.1" fill="#b3bac4"/>
<polygon points="875.1,661.1 875.0,663.6 1064.3,709.8 1064.3,706.8" fill="#b2b9c3"/>
<polygon points="875.1,662.6 875.0,665.1 1064.3,711.6 1064.3,708.6" fill="#848a93"/>
<polygon points="875.0,664.1 875.0,666.5 1064.3,713.3 1064.3,710.3" fill="#868c95"/>
<polygon points="875.0,665.5 875.0,668.0 1064.3,715.1 1064.3,712.1" fill="#969da6"/>
<polygon points="875.0,667.0 875.0,669.5 1064.3,716.8 1064.3,713.8" fill="#b4bbc5"/>
<polygon points="875.0,668.4 875.0,670.9 1064.3,718.5 1064.3,715.6" fill="#b2b9c3"/>
<polygon points="875.0,669.9 874.9,672.4 1064.3,720.3 1064.3,717.3" fill="#b0b7c1"/>
<polygon points="874.9,671.4 874.9,673.9 1064.3,722.0 1064.3,719.1" fill="#aeb5bf"/>
<polygon points="874.9,672.8 874.9,675.3 1064.3,723.8 1064.3,720.8" fill="#acb3bd"/>
<polygon points="874.9,674.3 874.9,676.8 1064.3,725.5 1064.3,722.6" fill="#aab1bb"/>
<polygon points="874.9,675.8 874.9,678.2 1064.3,727.3 1064.3,724.3" fill="#a8afb9"/>
<polygon points="874.9,677.2 874.8,679.7 1064.3,729.0 1064.3,726.1" fill="#a6adb7"/>
<polygon points="874.9,678.7 874.8,681.2 1064.3,730.8 1064.3,727.8" fill="#a4abb5"/>
<polygon points="874.8,680.1 874.8,682.6 1064.3,732.5 1064.3,729.6" fill="#a2a9b3"/>
<polygon points="874.8,681.6 874.8,684.1 1064.3,734.3 1064.3,731.3" fill="#848a93"/>
<polygon points="874.8,683.1 874.8,685.5 1064.3,736.0 1064.3,733.1" fill="#868c95"/>
<polygon points="874.8,684.5 874.8,687.0 1064.3,737.8 1064.3,734.8" fill="#969da6"/>
<polygon points="874.8,686.0 874.7,688.5 1064.3,739.5 1064.3,736.6" fill="#b4bbc5"/>
<polygon points="874.8,687.5 874.7,689.9 1064.3,741.3 1064.3,738.3" fill="#b2b9c3"/>
<polygon points="874.7,688.9 874.7,691.4 1064.3,743.0 1064.3,740.0" fill="#b0b7c1"/>
<polygon points="874.7,690.4 874.7,692.9 1064.3,744.8 1064.3,741.8" fill="#aeb5bf"/>
<polygon points="874.7,691.8 874.7,694.3 1064.3,746.5 1064.3,743.5" fill="#acb3bd"/>
<polygon points="874.7,693.3 874.6,695.8 1064.3,748.3 1064.3,745.3" fill="#aab1bb"/>
<polygon points="874.7,694.8 874.6,697.2 1064.3,750.0 1064.3,747.0" fill="#a9b0ba"/>
<polygon points="874.6,696.2 874.6,698.7 1064.3,751.8 1064.3,748.8" fill="#a7aeb8"/>
<polygon points="874.6,697.7 874.6,700.2 1064.3,753.5 1064.3,750.5" fill="#a5acb6"/>
<polygon points="874.6,699.1 874.6,701.6 1064.3,755.3 1064.3,752.3" fill="#a4abb5"/>
<polygon points="874.6,700.6 874.6,703.1 1064.3,757.0 1064.3,754.0" fill="#a2a9b3"/>
<polygon points="874.6,702.1 874.5,704.6 1064.3,758.8 1064.3,755.8" fill="#848a93"/>
<polygon points="874.6,703.5 874.5,706.0 1064.3,760.5 1064.3,757.5" fill="#868c95"/>
<polygon points="874.5,705.0 874.5,707.5 1064.3,762.2 1064.3,759.3" fill="#969ca5"/>
<polygon points="874.5,706.5 874.5,708.9 1064.3,764.0 1064.3,761.0" fill="#b2b9c3"/>
<polygon points="874.5,707.9 874.5,710.4 1064.3,765.7 1064.3,762.8" fill="#b0b7c1"/>
<polygon points="874.5,709.4 874.4,711.9 1064.3,767.5 1064.3,764.5" fill="#afb6c0"/>
<polygon points="874.5,710.8 874.4,713.3 1064.3,769.2 1064.3,766.3" fill="#adb4be"/>
<polygon points="874.4,712.3 874.4,714.8 1064.3,771.0 1064.3,768.0" fill="#abb2bc"/>
<polygon points="874.4,713.8 874.4,716.3 1064.3,772.7 1064.3,769.8" fill="#a9b0ba"/>
<polygon points="874.4,715.2 874.4,717.7 1064.3,774.5 1064.3,771.5" fill="#a7aeb8"/>
<polygon points="874.4,716.7 874.4,719.2 1064.3,776.2 1064.3,773.3" fill="#a5acb6"/>
<polygon points="874.4,718.2 874.3,720.6 1064.3,778.0 1064.3,775.0" fill="#a3aab4"/>
<polygon points="874.4,719.6 874.3,722.1 1064.3,779.7 1064.3,776.8" fill="#a1a8b2"/>
<polygon points="874.3,721.1 874.3,723.6 1064.3,781.5 1064.3,778.5" fill="#9fa6b0"/>
<polygon points="874.3,722.5 874.3,724.0 1064.3,782.0 1064.3,780.3" fill="#949ba4"/>
<polygon points="1069.0,697.0 1069.0,700.0 1371.0,775.9 1371.0,772.3" fill="#b9c0ca"/>
<polygon points="1069.0,698.7 1069.0,701.7 1371.0,778.1 1371.0,774.4" fill="#b8bfc9"/>
<polygon points="1069.0,700.5 1069.0,703.4 1371.0,780.2 1371.0,776.6" fill="#b7bec8"/>
<polygon points="1069.0,702.2 1069.0,705.2 1371.0,782.3 1371.0,778.7" fill="#b6bdc7"/>
<polygon points="1069.0,704.0 1069.0,706.9 1371.0,784.5 1371.0,780.8" fill="#b5bcc6"/>
<polygon points="1069.0,705.7 1069.0,708.7 1371.0,786.6 1371.0,783.0" fill="#b4bbc5"/>
<polygon points="1069.0,707.4 1069.0,710.4 1371.0,788.7 1371.0,785.1" fill="#b3bac4"/>
<polygon points="1069.0,709.2 1069.0,712.1 1371.0,790.9 1371.0,787.2" fill="#b2b9c3"/>
<polygon points="1069.0,710.9 1069.0,713.9 1371.0,793.0 1371.0,789.4" fill="#848a93"/>
<polygon points="1069.0,712.7 1069.0,715.6 1371.0,795.1 1371.0,791.5" fill="#868c95"/>
<polygon points="1069.0,714.4 1069.0,717.4 1371.0,797.3 1371.0,793.6" fill="#969da6"/>
<polygon points="1069.0,716.1 1069.0,719.1 1371.0,799.4 1371.0,795.8" fill="#b4bbc5"/>
<polygon points="1069.0,717.9 1069.0,720.8 1371.0,801.5 1371.0,797.9" fill="#b2b9c3"/>
<polygon points="1069.0,719.6 1069.0,722.6 1371.0,803.7 1371.0,800.0" fill="#b0b7c1"/>
<polygon points="1069.0,721.4 1069.0,724.3 1371.0,805.8 1371.0,802.2" fill="#aeb5bf"/>
<polygon points="1069.0,723.1 1069.0,726.1 1371.0,807.9 1371.0,804.3" fill="#acb3bd"/>
<polygon points="1069.0,724.8 1069.0,727.8 1371.0,810.1 1371.0,806.4" fill="#aab1bb"/>
<polygon points="1069.0,726.6 1069.0,729.5 1371.0,812.2 1371.0,808.6" fill="#a8afb9"/>
<polygon points="1069.0,728.3 1069.0,731.3 1371.0,814.3 1371.0,810.7" fill="#a6adb7"/>
<polygon points="1069.0,730.1 1069.0,733.0 1371.0,816.5 1371.0,812.8" fill="#a4abb5"/>
<polygon points="1069.0,731.8 1069.0,734.8 1371.0,818.6 1371.0,815.0" fill="#a2a9b3"/>
<polygon points="1069.0,733.5 1069.0,736.5 1371.0,820.7 1371.0,817.1" fill="#848a93"/>
<polygon points="1069.0,735.3 1069.0,738.2 1371.0,822.9 1371.0,819.2" fill="#868c95"/>
<polygon points="1069.0,737.0 1069.0,740.0 1371.0,825.0 1371.0,821.4" fill="#969da6"/>
<polygon points="1069.0,738.8 1069.0,741.7 1371.0,827.1 1371.0,823.5" fill="#b4bbc5"/>
<polygon points="1069.0,740.5 1069.0,743.5 1371.0,829.3 1371.0,825.6" fill="#b2b9c3"/>
<polygon points="1069.0,742.2 1069.0,745.2 1371.0,831.4 1371.0,827.8" fill="#b0b7c1"/>
<polygon points="1069.0,744.0 1069.0,746.9 1371.0,833.5 1371.0,829.9" fill="#aeb5bf"/>
<polygon points="1069.0,745.7 1069.0,748.7 1371.0,835.7 1371.0,832.1" fill="#acb3bd"/>
<polygon points="1069.0,747.5 1069.0,750.4 1371.0,837.8 1371.0,834.2" fill="#aab1bb"/>
<polygon points="1069.0,749.2 1069.0,752.2 1371.0,839.9 1371.0,836.3" fill="#a9b0ba"/>
<polygon points="1069.0,750.9 1069.0,753.9 1371.0,842.1 1371.0,838.5" fill="#a7aeb8"/>
<polygon points="1069.0,752.7 1069.0,755.6 1371.0,844.2 1371.0,840.6" fill="#a5acb6"/>
<polygon points="1069.0,754.4 1069.0,757.4 1371.0,846.3 1371.0,842.7" fill="#a4abb5"/>
<polygon points="1069.0,756.2 1069.0,759.1 1371.0,848.5 1371.0,844.9" fill="#a2a9b3"/>
<polygon points="1069.0,757.9 1069.0,760.9 1371.0,850.6 1371.0,847.0" fill="#848a93"/>
<polygon points="1069.0,759.6 1069.0,762.6 1371.0,852.8 1371.0,849.1" fill="#868c95"/>
<polygon points="1069.0,761.4 1069.0,764.3 1371.0,854.9 1371.0,851.3" fill="#969ca5"/>
<polygon points="1069.0,763.1 1069.0,766.1 1371.0,857.0 1371.0,853.4" fill="#b2b9c3"/>
<polygon points="1069.0,764.9 1069.0,767.8 1371.0,859.2 1371.0,855.5" fill="#b0b7c1"/>
<polygon points="1069.0,766.6 1069.0,769.6 1371.0,861.3 1371.0,857.7" fill="#afb6c0"/>
<polygon points="1069.0,768.3 1069.0,771.3 1371.0,863.4 1371.0,859.8" fill="#adb4be"/>
<polygon points="1069.0,770.1 1069.0,773.0 1371.0,865.6 1371.0,861.9" fill="#abb2bc"/>
<polygon points="1069.0,771.8 1069.0,774.8 1371.0,867.7 1371.0,864.1" fill="#a9b0ba"/>
<polygon points="1069.0,773.6 1069.0,776.5 1371.0,869.8 1371.0,866.2" fill="#a7aeb8"/>
<polygon points="1069.0,775.3 1069.0,778.3 1371.0,872.0 1371.0,868.3" fill="#a5acb6"/>
<polygon points="1069.0,777.0 1069.0,780.0 1371.0,874.1 1371.0,870.5" fill="#a3aab4"/>
<polygon points="1069.0,778.8 1069.0,781.7 1371.0,876.2 1371.0,872.6" fill="#a1a8b2"/>
<polygon points="1069.0,780.5 1069.0,783.5 1371.0,878.4 1371.0,874.7" fill="#9fa6b0"/>
<polygon points="1069.0,782.3 1069.0,784.0 1371.0,879.0 1371.0,876.9" fill="#949ba4"/>
<polygon points="870.5,652.0 875.4,649.0 875.2,723.5 872.4,724.0" fill="#c9ced6"/>
<polygon points="1370.0,775.0 1378.2,772.3 1378.2,879.6 1370.0,879.0" fill="#bcc0c7"/>
<polygon points="1378.2,772.3 1419.0,770.0 1419.0,875.0 1378.2,879.6" fill="#a3a7ae"/>
<polygon points="1370.0,775.0 1378.2,772.3 1419.0,770.0 1411.0,767.2 1380.0,768.5" fill="#c7cbd2"/>
<circle cx="1373.8" cy="781.0" r="1.00" fill="#e4e7eb"/>
<circle cx="1373.8" cy="872.0" r="1.00" fill="#e4e7eb"/>
<line x1="1067.0" y1="696.5" x2="1238.0" y2="655.5" stroke="#9da2aa" stroke-width="4.20"/>
<line x1="1067.0" y1="696.0" x2="1238.0" y2="655.0" stroke="#eeeff0" stroke-width="2.80"/>
<line x1="1238.3" y1="656.0" x2="1238.3" y2="722.0" stroke="#c9ccd1" stroke-width="1.60"/>
<polygon points="1064.3,695.0 1069.0,696.4 1069.0,783.0 1064.3,781.5" fill="#ebecee"/>
<line x1="1070.2" y1="698.0" x2="1070.2" y2="784.5" stroke="#636972" stroke-width="2.20"/>
<line x1="1056.0" y1="787.7" x2="1068.5" y2="781.5" stroke="#e2e3e5" stroke-width="2.40"/>
<circle cx="1066.6" cy="702.0" r="0.80" fill="#9aa0a8"/>
<circle cx="1066.6" cy="716.0" r="0.80" fill="#9aa0a8"/>
</g>
<clipPath id="clipA"><polygon points="1250,180 1300,180 1300,197.2 1250,203.8"/></clipPath>
<g clip-path="url(#clipA)">
<text x="1263.6" y="206.6" font-size="24.0" font-weight="bold" fill="#34991f" textLength="15.8" lengthAdjust="spacingAndGlyphs">A</text>
</g>
<text x="897.0" y="165.6" font-size="24.0" font-weight="bold" fill="#34991f" textLength="14.6" lengthAdjust="spacingAndGlyphs">E</text>
<text x="924.0" y="196.6" font-size="24.0" font-weight="bold" fill="#34991f" textLength="15.8" lengthAdjust="spacingAndGlyphs">C</text>
<text x="1028.6" y="183.4" font-size="24.0" font-weight="bold" fill="#34991f" textLength="15.8" lengthAdjust="spacingAndGlyphs">B</text>
<text x="921.0" y="269.4" font-size="24.0" font-weight="bold" fill="#34991f" textLength="15.8" lengthAdjust="spacingAndGlyphs">A</text>
<text x="1171.0" y="168.8" font-size="24.0" font-weight="bold" fill="#34991f" textLength="15.8" lengthAdjust="spacingAndGlyphs">C</text>
<text x="1216.0" y="136.2" font-size="24.0" font-weight="bold" fill="#34991f" textLength="14.6" lengthAdjust="spacingAndGlyphs">E</text>
<text x="1140.5" y="243.6" font-size="24.0" font-weight="bold" fill="#34991f" textLength="15.8" lengthAdjust="spacingAndGlyphs">D</text>
<text x="1379.8" y="195.4" font-size="24.0" font-weight="bold" fill="#34991f" textLength="15.8" lengthAdjust="spacingAndGlyphs">D</text>
<text x="1423.2" y="203.6" font-size="24.0" font-weight="bold" fill="#34991f" textLength="14.6" lengthAdjust="spacingAndGlyphs">E</text>
<text x="1393.8" y="269.4" font-size="24.0" font-weight="bold" fill="#34991f" textLength="15.8" lengthAdjust="spacingAndGlyphs">A</text>
<text x="1043.3" y="354.6" font-size="24.0" font-weight="bold" fill="#34991f" textLength="15.8" lengthAdjust="spacingAndGlyphs">A</text>
<text x="947.4" y="389.2" font-size="24.0" font-weight="bold" fill="#34991f" textLength="15.8" lengthAdjust="spacingAndGlyphs">D</text>
<text x="986.3" y="413.5" font-size="24.0" font-weight="bold" fill="#34991f" textLength="14.6" lengthAdjust="spacingAndGlyphs">E</text>
<text x="1179.0" y="324.2" font-size="24.0" font-weight="bold" fill="#34991f" textLength="15.8" lengthAdjust="spacingAndGlyphs">D</text>
<text x="1157.2" y="420.6" font-size="24.0" font-weight="bold" fill="#34991f" textLength="15.8" lengthAdjust="spacingAndGlyphs">C</text>
<text x="1332.0" y="398.8" font-size="24.0" font-weight="bold" fill="#34991f" textLength="15.8" lengthAdjust="spacingAndGlyphs">B</text>
<text x="1481.8" y="367.8" font-size="24.0" font-weight="bold" fill="#34991f" textLength="15.8" lengthAdjust="spacingAndGlyphs">C</text>
<text x="1514.4" y="442.2" font-size="24.0" font-weight="bold" fill="#34991f" textLength="14.6" lengthAdjust="spacingAndGlyphs">E</text>
<text x="1173.2" y="525.6" font-size="24.0" font-weight="bold" fill="#34991f" textLength="14.6" lengthAdjust="spacingAndGlyphs">E</text>
<line x1="1235.4" y1="505.3" x2="1176.0" y2="475.4" stroke="#0b7a3d" stroke-width="3.00"/>
<polygon points="1167.9,471.3 1190.5,474.6 1181.5,478.2 1179.5,487.6" fill="#0b7a3d"/>
<circle cx="1270.5" cy="540.5" r="50.2" fill="#fff" stroke="#17170f" stroke-width="2.6"/>
<path d="M1220.6 539.6 H1263.4 V532.5 Q1263.4 528.4 1267.2 528.4 H1271.3 Q1275.1 528.4 1275.1 532.5 V539.6 H1320.4" fill="none" stroke="#17170f" stroke-width="1.3"/>
<text x="1333.0" y="555.3" font-size="19.0" font-weight="normal" fill="#2b2b2b" textLength="212.0" lengthAdjust="spacingAndGlyphs">place the holes facing down</text>
</g>
<rect x="54.85" y="51.45" width="703.30" height="898.00" fill="none" stroke="#81a045" stroke-width="6.50"/>
<rect x="843.55" y="51.45" width="718.40" height="898.00" fill="none" stroke="#81a045" stroke-width="6.50"/>
<polygon points="777.2,477.6 824.6,501.2 778.0,524.4 792.0,501.4" fill="#83a546"/>
</svg></body></html>
